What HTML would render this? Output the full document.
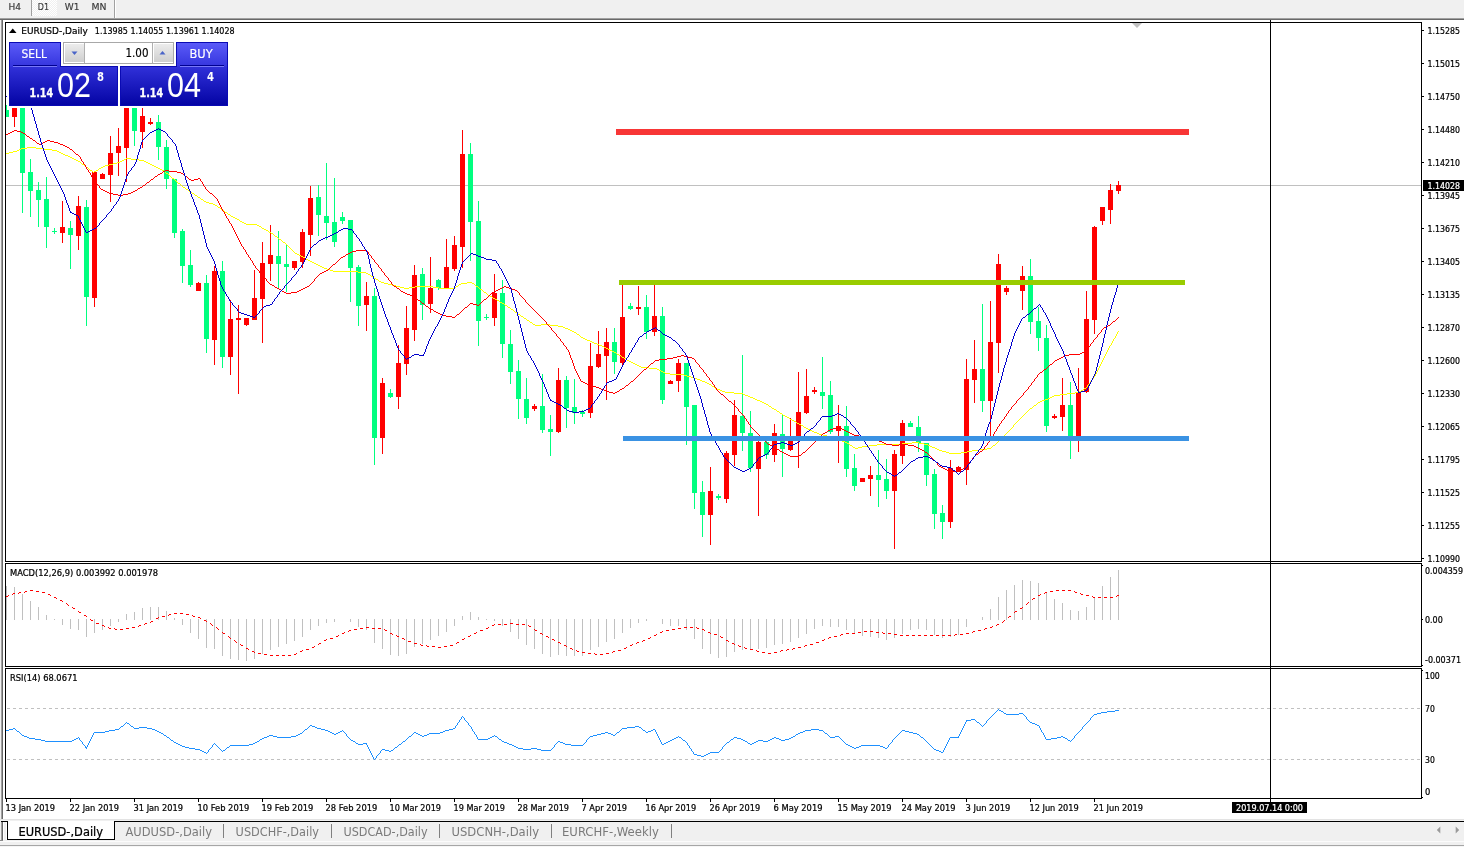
<!DOCTYPE html>
<html><head><meta charset="utf-8"><title>EURUSD-,Daily</title>
<style>html,body{margin:0;padding:0;background:#f0f0f0;overflow:hidden}svg{display:block}</style></head>
<body>
<svg width="1464" height="847" viewBox="0 0 1464 847" font-family='"DejaVu Sans Condensed", "Liberation Sans", sans-serif' shape-rendering="crispEdges">
<defs><linearGradient id="gs" x1="0" y1="0" x2="0" y2="1"><stop offset="0" stop-color="#5a5af8"/><stop offset="1" stop-color="#3636de"/></linearGradient><linearGradient id="gp" x1="0" y1="0" x2="0" y2="1"><stop offset="0" stop-color="#3030d8"/><stop offset="1" stop-color="#0404a4"/></linearGradient><linearGradient id="gb" x1="0" y1="0" x2="0" y2="1"><stop offset="0" stop-color="#ececec"/><stop offset="1" stop-color="#cfcfcf"/></linearGradient><pattern id="chk" width="2" height="2" patternUnits="userSpaceOnUse"><rect width="2" height="2" fill="#f0f0f0"/><rect width="1" height="1" fill="#fff"/><rect x="1" y="1" width="1" height="1" fill="#fff"/></pattern><clipPath id="cm"><rect x="6" y="23" width="1415" height="538"/></clipPath></defs>
<rect x="0" y="0" width="1464" height="847" fill="#f0f0f0"/>
<rect x="32" y="0" width="25" height="16" fill="url(#chk)"/>
<rect x="31" y="0" width="1" height="16" fill="#a0a0a0"/>
<rect x="114" y="0" width="1" height="18" fill="#a0a0a0"/>
<rect x="115" y="0" width="1" height="18" fill="#ffffff"/>
<text x="8.5" y="10.2" font-size="9.3" fill="#3a3a3a" textLength="12.5" lengthAdjust="spacingAndGlyphs" stroke="#3a3a3a" stroke-width="0.15">H4</text>
<text x="37.8" y="10.2" font-size="9.3" fill="#3a3a3a" textLength="11.2" lengthAdjust="spacingAndGlyphs" stroke="#3a3a3a" stroke-width="0.15">D1</text>
<text x="64.8" y="10.2" font-size="9.3" fill="#3a3a3a" textLength="14.7" lengthAdjust="spacingAndGlyphs" stroke="#3a3a3a" stroke-width="0.15">W1</text>
<text x="91.5" y="10.2" font-size="9.3" fill="#3a3a3a" textLength="15" lengthAdjust="spacingAndGlyphs" stroke="#3a3a3a" stroke-width="0.15">MN</text>
<rect x="0" y="18" width="1464" height="1" fill="#a0a0a0"/>
<rect x="0" y="19" width="1464" height="1" fill="#696969"/>
<rect x="1" y="20" width="1" height="800" fill="#a0a0a0"/>
<rect x="2" y="20" width="1" height="800" fill="#696969"/>
<rect x="3" y="20" width="1461" height="800" fill="#ffffff"/>
<rect x="0" y="819" width="1464" height="1" fill="#e3e3e3"/>
<rect x="0" y="820" width="1464" height="27" fill="#f0f0f0"/>
<rect x="0" y="841" width="1464" height="1" fill="#fbfbfb"/>
<rect x="0" y="845" width="1464" height="1" fill="#a6a6a6"/>
<rect x="0" y="846" width="1464" height="1" fill="#f6f6f6"/>
<rect x="1" y="821" width="1463" height="1" fill="#000"/>
<rect x="7" y="821" width="108" height="19" fill="#fff"/>
<rect x="7" y="821" width="1" height="19" fill="#000"/>
<rect x="114" y="821" width="1" height="19" fill="#000"/>
<rect x="7" y="839" width="108" height="1" fill="#000"/>
<rect x="8" y="821" width="106" height="1" fill="#fff"/>
<rect x="1" y="822" width="1" height="18" fill="#a0a0a0"/>
<rect x="2" y="822" width="1" height="18" fill="#696969"/>
<rect x="0" y="840" width="3" height="1" fill="#8a8a8a"/>
<rect x="3" y="822" width="1" height="18" fill="#fff"/>
<rect x="6" y="822" width="1" height="18" fill="#fff"/>
<text x="18.5" y="836" font-size="12" fill="#000" textLength="84.5" lengthAdjust="spacingAndGlyphs" stroke="#000" stroke-width="0.22">EURUSD-,Daily</text>
<text x="125.5" y="836" font-size="12" fill="#7a7a7a" textLength="86.5" lengthAdjust="spacingAndGlyphs">AUDUSD-,Daily</text>
<text x="235.6" y="836" font-size="12" fill="#7a7a7a" textLength="83.4" lengthAdjust="spacingAndGlyphs">USDCHF-,Daily</text>
<text x="343.5" y="836" font-size="12" fill="#7a7a7a" textLength="84.1" lengthAdjust="spacingAndGlyphs">USDCAD-,Daily</text>
<text x="451.5" y="836" font-size="12" fill="#7a7a7a" textLength="87.5" lengthAdjust="spacingAndGlyphs">USDCNH-,Daily</text>
<text x="562" y="836" font-size="12" fill="#7a7a7a" textLength="96.8" lengthAdjust="spacingAndGlyphs">EURCHF-,Weekly</text>
<rect x="223" y="824" width="1" height="14" fill="#808080"/>
<rect x="331" y="824" width="1" height="14" fill="#808080"/>
<rect x="439" y="824" width="1" height="14" fill="#808080"/>
<rect x="551" y="824" width="1" height="14" fill="#808080"/>
<rect x="671" y="824" width="1" height="14" fill="#808080"/>
<path d="M1440.3 826.5 L1440.3 833.5 L1436.8 830 Z" fill="#9a9a9a" shape-rendering="auto"/>
<path d="M1455.7 826.5 L1455.7 833.5 L1459.2 830 Z" fill="#9a9a9a" shape-rendering="auto"/>
<rect x="5" y="22" width="1" height="540" fill="#000"/>
<rect x="5" y="22" width="1417" height="1" fill="#000"/>
<rect x="5" y="561" width="1417" height="1" fill="#000"/>
<rect x="1421" y="22" width="1" height="540" fill="#000"/>
<rect x="5" y="563" width="1" height="104" fill="#000"/>
<rect x="5" y="563" width="1417" height="1" fill="#000"/>
<rect x="5" y="666" width="1417" height="1" fill="#000"/>
<rect x="1421" y="563" width="1" height="104" fill="#000"/>
<rect x="5" y="668" width="1" height="131" fill="#000"/>
<rect x="5" y="668" width="1417" height="1" fill="#000"/>
<rect x="5" y="798" width="1417" height="1" fill="#000"/>
<rect x="1421" y="668" width="1" height="131" fill="#000"/>
<rect x="6" y="185" width="1415" height="1" fill="#c0c0c0"/>
<path d="M1132 23 L1142 23 L1137 28 Z" fill="#c0c0c0" shape-rendering="auto"/>
<g clip-path="url(#cm)">
<rect x="6" y="105" width="1" height="12" fill="#00ff7f"/>
<rect x="4" y="110" width="5" height="7" fill="#00ff7f"/>
<rect x="14" y="108" width="1" height="19" fill="#ff0000"/>
<rect x="12" y="108" width="5" height="9" fill="#ff0000"/>
<rect x="22" y="108" width="1" height="105" fill="#00ff7f"/>
<rect x="20" y="108" width="5" height="65" fill="#00ff7f"/>
<rect x="30" y="159" width="1" height="58" fill="#00ff7f"/>
<rect x="28" y="172" width="5" height="19" fill="#00ff7f"/>
<rect x="38" y="182" width="1" height="45" fill="#00ff7f"/>
<rect x="36" y="190" width="5" height="10" fill="#00ff7f"/>
<rect x="46" y="177" width="1" height="71" fill="#00ff7f"/>
<rect x="44" y="199" width="5" height="28" fill="#00ff7f"/>
<rect x="54" y="228" width="1" height="6" fill="#00ff7f"/>
<rect x="52" y="231" width="5" height="1" fill="#00ff7f"/>
<rect x="62" y="201" width="1" height="42" fill="#ff0000"/>
<rect x="60" y="227" width="5" height="6" fill="#ff0000"/>
<rect x="70" y="221" width="1" height="48" fill="#00ff7f"/>
<rect x="68" y="228" width="5" height="7" fill="#00ff7f"/>
<rect x="78" y="196" width="1" height="54" fill="#ff0000"/>
<rect x="76" y="206" width="5" height="30" fill="#ff0000"/>
<rect x="86" y="200" width="1" height="126" fill="#00ff7f"/>
<rect x="84" y="207" width="5" height="90" fill="#00ff7f"/>
<rect x="94" y="172" width="1" height="135" fill="#ff0000"/>
<rect x="92" y="172" width="5" height="126" fill="#ff0000"/>
<rect x="102" y="173" width="1" height="6" fill="#ff0000"/>
<rect x="100" y="174" width="5" height="5" fill="#ff0000"/>
<rect x="110" y="136" width="1" height="66" fill="#ff0000"/>
<rect x="108" y="153" width="5" height="22" fill="#ff0000"/>
<rect x="118" y="128" width="1" height="48" fill="#ff0000"/>
<rect x="116" y="146" width="5" height="7" fill="#ff0000"/>
<rect x="126" y="95" width="1" height="87" fill="#ff0000"/>
<rect x="124" y="95" width="5" height="53" fill="#ff0000"/>
<rect x="134" y="95" width="1" height="51" fill="#00ff7f"/>
<rect x="132" y="100" width="5" height="31" fill="#00ff7f"/>
<rect x="142" y="100" width="1" height="48" fill="#ff0000"/>
<rect x="140" y="116" width="5" height="16" fill="#ff0000"/>
<rect x="150" y="118" width="1" height="7" fill="#ff0000"/>
<rect x="148" y="122" width="5" height="2" fill="#ff0000"/>
<rect x="158" y="115" width="1" height="45" fill="#00ff7f"/>
<rect x="156" y="122" width="5" height="25" fill="#00ff7f"/>
<rect x="166" y="140" width="1" height="49" fill="#00ff7f"/>
<rect x="164" y="147" width="5" height="32" fill="#00ff7f"/>
<rect x="174" y="179" width="1" height="59" fill="#00ff7f"/>
<rect x="172" y="179" width="5" height="54" fill="#00ff7f"/>
<rect x="182" y="229" width="1" height="54" fill="#00ff7f"/>
<rect x="180" y="231" width="5" height="35" fill="#00ff7f"/>
<rect x="190" y="250" width="1" height="37" fill="#00ff7f"/>
<rect x="188" y="265" width="5" height="20" fill="#00ff7f"/>
<rect x="198" y="282" width="1" height="9" fill="#ff0000"/>
<rect x="196" y="283" width="5" height="8" fill="#ff0000"/>
<rect x="206" y="275" width="1" height="78" fill="#00ff7f"/>
<rect x="204" y="283" width="5" height="56" fill="#00ff7f"/>
<rect x="214" y="266" width="1" height="99" fill="#ff0000"/>
<rect x="212" y="271" width="5" height="69" fill="#ff0000"/>
<rect x="222" y="261" width="1" height="107" fill="#00ff7f"/>
<rect x="220" y="271" width="5" height="86" fill="#00ff7f"/>
<rect x="230" y="300" width="1" height="75" fill="#ff0000"/>
<rect x="228" y="319" width="5" height="38" fill="#ff0000"/>
<rect x="238" y="305" width="1" height="89" fill="#ff0000"/>
<rect x="236" y="318" width="5" height="2" fill="#ff0000"/>
<rect x="246" y="318" width="1" height="8" fill="#ff0000"/>
<rect x="244" y="318" width="5" height="7" fill="#ff0000"/>
<rect x="254" y="270" width="1" height="50" fill="#ff0000"/>
<rect x="252" y="298" width="5" height="22" fill="#ff0000"/>
<rect x="262" y="242" width="1" height="101" fill="#ff0000"/>
<rect x="260" y="263" width="5" height="36" fill="#ff0000"/>
<rect x="270" y="225" width="1" height="56" fill="#ff0000"/>
<rect x="268" y="255" width="5" height="9" fill="#ff0000"/>
<rect x="278" y="231" width="1" height="57" fill="#00ff7f"/>
<rect x="276" y="256" width="5" height="8" fill="#00ff7f"/>
<rect x="286" y="244" width="1" height="48" fill="#00ff7f"/>
<rect x="284" y="264" width="5" height="3" fill="#00ff7f"/>
<rect x="294" y="261" width="1" height="9" fill="#ff0000"/>
<rect x="292" y="261" width="5" height="7" fill="#ff0000"/>
<rect x="302" y="229" width="1" height="39" fill="#ff0000"/>
<rect x="300" y="232" width="5" height="30" fill="#ff0000"/>
<rect x="310" y="186" width="1" height="70" fill="#ff0000"/>
<rect x="308" y="198" width="5" height="37" fill="#ff0000"/>
<rect x="318" y="185" width="1" height="51" fill="#00ff7f"/>
<rect x="316" y="197" width="5" height="18" fill="#00ff7f"/>
<rect x="326" y="163" width="1" height="77" fill="#00ff7f"/>
<rect x="324" y="216" width="5" height="7" fill="#00ff7f"/>
<rect x="334" y="178" width="1" height="69" fill="#00ff7f"/>
<rect x="332" y="222" width="5" height="20" fill="#00ff7f"/>
<rect x="342" y="212" width="1" height="12" fill="#00ff7f"/>
<rect x="340" y="217" width="5" height="4" fill="#00ff7f"/>
<rect x="350" y="220" width="1" height="82" fill="#00ff7f"/>
<rect x="348" y="220" width="5" height="48" fill="#00ff7f"/>
<rect x="358" y="265" width="1" height="61" fill="#00ff7f"/>
<rect x="356" y="267" width="5" height="39" fill="#00ff7f"/>
<rect x="366" y="282" width="1" height="49" fill="#ff0000"/>
<rect x="364" y="296" width="5" height="9" fill="#ff0000"/>
<rect x="374" y="288" width="1" height="177" fill="#00ff7f"/>
<rect x="372" y="296" width="5" height="142" fill="#00ff7f"/>
<rect x="382" y="378" width="1" height="76" fill="#ff0000"/>
<rect x="380" y="383" width="5" height="55" fill="#ff0000"/>
<rect x="390" y="389" width="1" height="9" fill="#00ff7f"/>
<rect x="388" y="393" width="5" height="4" fill="#00ff7f"/>
<rect x="398" y="345" width="1" height="64" fill="#ff0000"/>
<rect x="396" y="363" width="5" height="34" fill="#ff0000"/>
<rect x="406" y="306" width="1" height="69" fill="#ff0000"/>
<rect x="404" y="328" width="5" height="36" fill="#ff0000"/>
<rect x="414" y="265" width="1" height="76" fill="#ff0000"/>
<rect x="412" y="275" width="5" height="55" fill="#ff0000"/>
<rect x="422" y="268" width="1" height="52" fill="#00ff7f"/>
<rect x="420" y="274" width="5" height="31" fill="#00ff7f"/>
<rect x="430" y="257" width="1" height="56" fill="#ff0000"/>
<rect x="428" y="288" width="5" height="16" fill="#ff0000"/>
<rect x="438" y="279" width="1" height="11" fill="#00ff7f"/>
<rect x="436" y="280" width="5" height="8" fill="#00ff7f"/>
<rect x="446" y="239" width="1" height="49" fill="#ff0000"/>
<rect x="444" y="267" width="5" height="21" fill="#ff0000"/>
<rect x="454" y="236" width="1" height="35" fill="#ff0000"/>
<rect x="452" y="245" width="5" height="24" fill="#ff0000"/>
<rect x="462" y="130" width="1" height="138" fill="#ff0000"/>
<rect x="460" y="154" width="5" height="93" fill="#ff0000"/>
<rect x="470" y="143" width="1" height="118" fill="#00ff7f"/>
<rect x="468" y="154" width="5" height="68" fill="#00ff7f"/>
<rect x="478" y="201" width="1" height="145" fill="#00ff7f"/>
<rect x="476" y="221" width="5" height="100" fill="#00ff7f"/>
<rect x="486" y="314" width="1" height="6" fill="#00ff7f"/>
<rect x="484" y="317" width="5" height="1" fill="#00ff7f"/>
<rect x="494" y="274" width="1" height="52" fill="#ff0000"/>
<rect x="492" y="293" width="5" height="25" fill="#ff0000"/>
<rect x="502" y="280" width="1" height="78" fill="#00ff7f"/>
<rect x="500" y="293" width="5" height="51" fill="#00ff7f"/>
<rect x="510" y="330" width="1" height="54" fill="#00ff7f"/>
<rect x="508" y="344" width="5" height="28" fill="#00ff7f"/>
<rect x="518" y="360" width="1" height="59" fill="#00ff7f"/>
<rect x="516" y="371" width="5" height="28" fill="#00ff7f"/>
<rect x="526" y="378" width="1" height="46" fill="#00ff7f"/>
<rect x="524" y="399" width="5" height="19" fill="#00ff7f"/>
<rect x="534" y="404" width="1" height="7" fill="#ff0000"/>
<rect x="532" y="406" width="5" height="3" fill="#ff0000"/>
<rect x="542" y="374" width="1" height="59" fill="#00ff7f"/>
<rect x="540" y="406" width="5" height="24" fill="#00ff7f"/>
<rect x="550" y="415" width="1" height="41" fill="#00ff7f"/>
<rect x="548" y="429" width="5" height="3" fill="#00ff7f"/>
<rect x="558" y="368" width="1" height="65" fill="#ff0000"/>
<rect x="556" y="380" width="5" height="52" fill="#ff0000"/>
<rect x="566" y="376" width="1" height="52" fill="#00ff7f"/>
<rect x="564" y="380" width="5" height="28" fill="#00ff7f"/>
<rect x="574" y="379" width="1" height="45" fill="#00ff7f"/>
<rect x="572" y="407" width="5" height="6" fill="#00ff7f"/>
<rect x="582" y="410" width="1" height="7" fill="#00ff7f"/>
<rect x="580" y="412" width="5" height="2" fill="#00ff7f"/>
<rect x="590" y="343" width="1" height="75" fill="#ff0000"/>
<rect x="588" y="366" width="5" height="47" fill="#ff0000"/>
<rect x="598" y="331" width="1" height="37" fill="#ff0000"/>
<rect x="596" y="354" width="5" height="13" fill="#ff0000"/>
<rect x="606" y="328" width="1" height="72" fill="#ff0000"/>
<rect x="604" y="342" width="5" height="14" fill="#ff0000"/>
<rect x="614" y="328" width="1" height="46" fill="#00ff7f"/>
<rect x="612" y="342" width="5" height="20" fill="#00ff7f"/>
<rect x="622" y="285" width="1" height="81" fill="#ff0000"/>
<rect x="620" y="317" width="5" height="46" fill="#ff0000"/>
<rect x="630" y="303" width="1" height="7" fill="#00ff7f"/>
<rect x="628" y="306" width="5" height="3" fill="#00ff7f"/>
<rect x="638" y="286" width="1" height="29" fill="#ff0000"/>
<rect x="636" y="307" width="5" height="2" fill="#ff0000"/>
<rect x="646" y="295" width="1" height="44" fill="#00ff7f"/>
<rect x="644" y="307" width="5" height="25" fill="#00ff7f"/>
<rect x="654" y="285" width="1" height="51" fill="#ff0000"/>
<rect x="652" y="316" width="5" height="16" fill="#ff0000"/>
<rect x="662" y="307" width="1" height="97" fill="#00ff7f"/>
<rect x="660" y="316" width="5" height="84" fill="#00ff7f"/>
<rect x="670" y="380" width="1" height="4" fill="#ff0000"/>
<rect x="668" y="381" width="5" height="3" fill="#ff0000"/>
<rect x="678" y="359" width="1" height="33" fill="#ff0000"/>
<rect x="676" y="363" width="5" height="18" fill="#ff0000"/>
<rect x="686" y="363" width="1" height="82" fill="#00ff7f"/>
<rect x="684" y="363" width="5" height="44" fill="#00ff7f"/>
<rect x="694" y="405" width="1" height="104" fill="#00ff7f"/>
<rect x="692" y="405" width="5" height="88" fill="#00ff7f"/>
<rect x="702" y="481" width="1" height="56" fill="#00ff7f"/>
<rect x="700" y="492" width="5" height="23" fill="#00ff7f"/>
<rect x="710" y="467" width="1" height="78" fill="#ff0000"/>
<rect x="708" y="491" width="5" height="24" fill="#ff0000"/>
<rect x="718" y="494" width="1" height="6" fill="#00ff7f"/>
<rect x="716" y="496" width="5" height="2" fill="#00ff7f"/>
<rect x="726" y="451" width="1" height="52" fill="#ff0000"/>
<rect x="724" y="453" width="5" height="46" fill="#ff0000"/>
<rect x="734" y="400" width="1" height="66" fill="#ff0000"/>
<rect x="732" y="415" width="5" height="40" fill="#ff0000"/>
<rect x="742" y="355" width="1" height="96" fill="#00ff7f"/>
<rect x="740" y="416" width="5" height="17" fill="#00ff7f"/>
<rect x="750" y="411" width="1" height="61" fill="#00ff7f"/>
<rect x="748" y="433" width="5" height="35" fill="#00ff7f"/>
<rect x="758" y="436" width="1" height="80" fill="#ff0000"/>
<rect x="756" y="442" width="5" height="27" fill="#ff0000"/>
<rect x="766" y="438" width="1" height="21" fill="#00ff7f"/>
<rect x="764" y="442" width="5" height="13" fill="#00ff7f"/>
<rect x="774" y="424" width="1" height="38" fill="#ff0000"/>
<rect x="772" y="433" width="5" height="22" fill="#ff0000"/>
<rect x="782" y="414" width="1" height="63" fill="#00ff7f"/>
<rect x="780" y="434" width="5" height="15" fill="#00ff7f"/>
<rect x="790" y="418" width="1" height="33" fill="#ff0000"/>
<rect x="788" y="441" width="5" height="9" fill="#ff0000"/>
<rect x="798" y="372" width="1" height="96" fill="#ff0000"/>
<rect x="796" y="412" width="5" height="29" fill="#ff0000"/>
<rect x="806" y="369" width="1" height="45" fill="#ff0000"/>
<rect x="804" y="396" width="5" height="17" fill="#ff0000"/>
<rect x="814" y="387" width="1" height="7" fill="#ff0000"/>
<rect x="812" y="390" width="5" height="2" fill="#ff0000"/>
<rect x="822" y="357" width="1" height="52" fill="#00ff7f"/>
<rect x="820" y="392" width="5" height="4" fill="#00ff7f"/>
<rect x="830" y="381" width="1" height="53" fill="#00ff7f"/>
<rect x="828" y="395" width="5" height="37" fill="#00ff7f"/>
<rect x="838" y="405" width="1" height="58" fill="#ff0000"/>
<rect x="836" y="426" width="5" height="5" fill="#ff0000"/>
<rect x="846" y="406" width="1" height="71" fill="#00ff7f"/>
<rect x="844" y="426" width="5" height="43" fill="#00ff7f"/>
<rect x="854" y="454" width="1" height="37" fill="#00ff7f"/>
<rect x="852" y="468" width="5" height="18" fill="#00ff7f"/>
<rect x="862" y="478" width="1" height="4" fill="#ff0000"/>
<rect x="860" y="478" width="5" height="4" fill="#ff0000"/>
<rect x="870" y="466" width="1" height="30" fill="#ff0000"/>
<rect x="868" y="475" width="5" height="4" fill="#ff0000"/>
<rect x="878" y="450" width="1" height="57" fill="#00ff7f"/>
<rect x="876" y="475" width="5" height="5" fill="#00ff7f"/>
<rect x="886" y="459" width="1" height="40" fill="#00ff7f"/>
<rect x="884" y="479" width="5" height="12" fill="#00ff7f"/>
<rect x="894" y="450" width="1" height="99" fill="#ff0000"/>
<rect x="892" y="454" width="5" height="37" fill="#ff0000"/>
<rect x="902" y="420" width="1" height="44" fill="#ff0000"/>
<rect x="900" y="423" width="5" height="33" fill="#ff0000"/>
<rect x="910" y="421" width="1" height="6" fill="#00ff7f"/>
<rect x="908" y="423" width="5" height="4" fill="#00ff7f"/>
<rect x="918" y="416" width="1" height="36" fill="#00ff7f"/>
<rect x="916" y="427" width="5" height="16" fill="#00ff7f"/>
<rect x="926" y="443" width="1" height="43" fill="#00ff7f"/>
<rect x="924" y="443" width="5" height="32" fill="#00ff7f"/>
<rect x="934" y="469" width="1" height="60" fill="#00ff7f"/>
<rect x="932" y="474" width="5" height="40" fill="#00ff7f"/>
<rect x="942" y="505" width="1" height="34" fill="#00ff7f"/>
<rect x="940" y="513" width="5" height="9" fill="#00ff7f"/>
<rect x="950" y="460" width="1" height="68" fill="#ff0000"/>
<rect x="948" y="468" width="5" height="54" fill="#ff0000"/>
<rect x="958" y="466" width="1" height="6" fill="#ff0000"/>
<rect x="956" y="467" width="5" height="5" fill="#ff0000"/>
<rect x="966" y="359" width="1" height="126" fill="#ff0000"/>
<rect x="964" y="379" width="5" height="91" fill="#ff0000"/>
<rect x="974" y="340" width="1" height="63" fill="#ff0000"/>
<rect x="972" y="369" width="5" height="11" fill="#ff0000"/>
<rect x="982" y="304" width="1" height="108" fill="#00ff7f"/>
<rect x="980" y="369" width="5" height="32" fill="#00ff7f"/>
<rect x="990" y="301" width="1" height="136" fill="#ff0000"/>
<rect x="988" y="342" width="5" height="59" fill="#ff0000"/>
<rect x="998" y="254" width="1" height="119" fill="#ff0000"/>
<rect x="996" y="264" width="5" height="79" fill="#ff0000"/>
<rect x="1006" y="286" width="1" height="9" fill="#ff0000"/>
<rect x="1004" y="288" width="5" height="4" fill="#ff0000"/>
<rect x="1014" y="280" width="1" height="4" fill="#ff0000"/>
<rect x="1012" y="281" width="5" height="2" fill="#ff0000"/>
<rect x="1022" y="266" width="1" height="44" fill="#ff0000"/>
<rect x="1020" y="276" width="5" height="15" fill="#ff0000"/>
<rect x="1030" y="259" width="1" height="75" fill="#00ff7f"/>
<rect x="1028" y="276" width="5" height="46" fill="#00ff7f"/>
<rect x="1038" y="307" width="1" height="44" fill="#00ff7f"/>
<rect x="1036" y="321" width="5" height="17" fill="#00ff7f"/>
<rect x="1046" y="325" width="1" height="107" fill="#00ff7f"/>
<rect x="1044" y="338" width="5" height="88" fill="#00ff7f"/>
<rect x="1054" y="414" width="1" height="5" fill="#ff0000"/>
<rect x="1052" y="416" width="5" height="2" fill="#ff0000"/>
<rect x="1062" y="378" width="1" height="53" fill="#ff0000"/>
<rect x="1060" y="405" width="5" height="12" fill="#ff0000"/>
<rect x="1070" y="382" width="1" height="77" fill="#00ff7f"/>
<rect x="1068" y="405" width="5" height="31" fill="#00ff7f"/>
<rect x="1078" y="368" width="1" height="84" fill="#ff0000"/>
<rect x="1076" y="392" width="5" height="44" fill="#ff0000"/>
<rect x="1086" y="291" width="1" height="102" fill="#ff0000"/>
<rect x="1084" y="319" width="5" height="73" fill="#ff0000"/>
<rect x="1094" y="226" width="1" height="108" fill="#ff0000"/>
<rect x="1092" y="227" width="5" height="93" fill="#ff0000"/>
<rect x="1102" y="207" width="1" height="18" fill="#ff0000"/>
<rect x="1100" y="207" width="5" height="14" fill="#ff0000"/>
<rect x="1110" y="184" width="1" height="40" fill="#ff0000"/>
<rect x="1108" y="190" width="5" height="20" fill="#ff0000"/>
<rect x="1118" y="181" width="1" height="13" fill="#ff0000"/>
<rect x="1116" y="185" width="5" height="6" fill="#ff0000"/>
<path fill="#ffff00" d="M27 147h9v1h-9zM21 148h6v1h-6zM36 148h8v1h-8zM19 149h2v1h-2zM44 149h8v1h-8zM17 150h2v1h-2zM52 150h5v1h-5zM13 151h4v1h-4zM57 151h2v1h-2zM9 152h4v1h-4zM59 152h2v1h-2zM6 153h3v1h-3zM61 153h2v1h-2zM63 154h2v1h-2zM65 155h3v1h-3zM68 156h2v1h-2zM70 157h2v1h-2zM72 158h2v1h-2zM126 158h5v1h-5zM74 159h2v1h-2zM124 159h2v1h-2zM131 159h8v1h-8zM76 160h2v1h-2zM122 160h2v1h-2zM139 160h5v1h-5zM78 161h2v1h-2zM120 161h2v1h-2zM144 161h2v1h-2zM80 162h1v1h-1zM117 162h3v1h-3zM146 162h2v1h-2zM81 163h1v1h-1zM113 163h4v1h-4zM148 163h2v1h-2zM82 164h2v1h-2zM109 164h4v1h-4zM150 164h2v1h-2zM84 165h1v1h-1zM105 165h4v1h-4zM152 165h2v1h-2zM85 166h1v1h-1zM103 166h2v1h-2zM154 166h2v1h-2zM86 167h2v1h-2zM101 167h2v1h-2zM156 167h2v1h-2zM88 168h1v1h-1zM99 168h2v1h-2zM158 168h2v1h-2zM89 169h1v1h-1zM98 169h1v1h-1zM160 169h2v1h-2zM90 170h2v1h-2zM96 170h2v1h-2zM162 170h2v1h-2zM92 171h1v1h-1zM94 171h2v1h-2zM164 171h1v1h-1zM93 172h1v1h-1zM165 172h1v1h-1zM166 173h2v1h-2zM168 174h1v1h-1zM169 175h1v1h-1zM170 176h1v1h-1zM171 177h1v1h-1zM172 178h2v1h-2zM174 179h1v1h-1zM175 180h1v1h-1zM176 181h1v1h-1zM177 182h1v1h-1zM178 183h2v1h-2zM180 184h1v1h-1zM181 185h1v1h-1zM182 186h1v1h-1zM183 187h2v1h-2zM185 188h1v1h-1zM186 189h2v1h-2zM188 190h1v1h-1zM189 191h2v1h-2zM191 192h1v1h-1zM192 193h2v1h-2zM194 194h1v1h-1zM195 195h2v1h-2zM197 196h1v1h-1zM198 197h2v1h-2zM200 198h1v1h-1zM201 199h2v1h-2zM203 200h1v1h-1zM204 201h2v1h-2zM206 202h3v1h-3zM209 203h4v1h-4zM213 204h2v1h-2zM215 205h2v1h-2zM217 206h1v1h-1zM218 207h2v1h-2zM220 208h1v1h-1zM221 209h2v1h-2zM223 210h1v1h-1zM224 211h1v1h-1zM225 212h2v1h-2zM227 213h1v1h-1zM228 214h2v1h-2zM230 215h1v1h-1zM231 216h2v1h-2zM233 217h2v1h-2zM235 218h2v1h-2zM237 219h2v1h-2zM239 220h1v1h-1zM240 221h2v1h-2zM242 222h2v1h-2zM244 223h2v1h-2zM246 224h11v1h-11zM257 225h2v1h-2zM259 226h2v1h-2zM261 227h1v1h-1zM262 228h2v1h-2zM264 229h2v1h-2zM266 230h2v1h-2zM268 231h1v1h-1zM269 232h2v1h-2zM271 233h2v1h-2zM273 234h1v1h-1zM274 235h1v1h-1zM275 236h2v1h-2zM277 237h1v1h-1zM278 238h1v1h-1zM279 239h2v1h-2zM281 240h1v1h-1zM282 241h1v1h-1zM283 242h2v1h-2zM285 243h1v1h-1zM286 244h1v1h-1zM287 245h1v1h-1zM288 246h1v1h-1zM289 247h1v1h-1zM290 248h1v1h-1zM291 249h1v1h-1zM292 250h1v1h-1zM293 251h1v1h-1zM294 252h1v1h-1zM295 253h2v1h-2zM297 254h2v1h-2zM299 255h2v1h-2zM301 256h2v1h-2zM303 257h2v1h-2zM305 258h1v1h-1zM306 259h2v1h-2zM308 260h2v1h-2zM310 261h2v1h-2zM312 262h2v1h-2zM314 263h2v1h-2zM316 264h2v1h-2zM318 265h2v1h-2zM320 266h2v1h-2zM322 267h2v1h-2zM324 268h3v1h-3zM327 269h3v1h-3zM330 270h3v1h-3zM333 271h25v1h-25zM358 272h8v1h-8zM366 273h2v1h-2zM368 274h2v1h-2zM370 275h1v1h-1zM371 276h2v1h-2zM373 277h1v1h-1zM374 278h2v1h-2zM376 279h2v1h-2zM378 280h1v1h-1zM379 281h2v1h-2zM381 282h3v1h-3zM467 282h5v1h-5zM384 283h4v1h-4zM461 283h6v1h-6zM472 283h2v1h-2zM388 284h4v1h-4zM459 284h2v1h-2zM474 284h1v1h-1zM392 285h4v1h-4zM458 285h1v1h-1zM475 285h1v1h-1zM396 286h4v1h-4zM415 286h18v1h-18zM456 286h2v1h-2zM476 286h2v1h-2zM400 287h4v1h-4zM409 287h6v1h-6zM433 287h6v1h-6zM454 287h2v1h-2zM478 287h1v1h-1zM404 288h5v1h-5zM439 288h15v1h-15zM479 288h1v1h-1zM480 289h2v1h-2zM482 290h1v1h-1zM483 291h1v1h-1zM484 292h2v1h-2zM486 293h1v1h-1zM487 294h1v1h-1zM488 295h2v1h-2zM490 296h2v1h-2zM492 297h1v1h-1zM493 298h2v1h-2zM495 299h2v1h-2zM497 300h2v1h-2zM499 301h1v1h-1zM500 302h2v1h-2zM502 303h2v1h-2zM504 304h1v1h-1zM505 305h2v1h-2zM507 306h1v1h-1zM508 307h2v1h-2zM510 308h1v1h-1zM511 309h2v1h-2zM513 310h1v1h-1zM514 311h1v1h-1zM515 312h2v1h-2zM517 313h1v1h-1zM518 314h2v1h-2zM520 315h1v1h-1zM521 316h2v1h-2zM523 317h1v1h-1zM524 318h2v1h-2zM526 319h1v1h-1zM527 320h2v1h-2zM529 321h1v1h-1zM530 322h2v1h-2zM532 323h1v1h-1zM533 324h2v1h-2zM541 324h9v1h-9zM535 325h6v1h-6zM550 325h8v1h-8zM558 326h5v1h-5zM563 327h2v1h-2zM565 328h3v1h-3zM568 329h2v1h-2zM570 330h2v1h-2zM572 331h2v1h-2zM1118 331h1v1h-1zM574 332h2v1h-2zM1117 332h1v2h-1zM576 333h1v1h-1zM577 334h2v1h-2zM1116 334h1v2h-1zM579 335h1v1h-1zM580 336h1v1h-1zM1115 336h1v2h-1zM581 337h2v1h-2zM583 338h2v1h-2zM1114 338h1v1h-1zM585 339h2v1h-2zM1113 339h1v2h-1zM587 340h3v1h-3zM590 341h2v1h-2zM1112 341h1v2h-1zM592 342h2v1h-2zM594 343h3v1h-3zM1111 343h1v2h-1zM597 344h2v1h-2zM599 345h3v1h-3zM1110 345h1v1h-1zM602 346h2v1h-2zM1109 346h1v2h-1zM604 347h2v1h-2zM606 348h2v1h-2zM1108 348h1v2h-1zM608 349h2v1h-2zM610 350h2v1h-2zM1107 350h1v2h-1zM612 351h2v1h-2zM614 352h2v1h-2zM1106 352h1v2h-1zM616 353h1v1h-1zM617 354h2v1h-2zM1105 354h1v2h-1zM619 355h2v1h-2zM621 356h1v1h-1zM1104 356h1v2h-1zM622 357h2v1h-2zM624 358h2v1h-2zM1103 358h1v2h-1zM626 359h1v1h-1zM627 360h2v1h-2zM1102 360h1v2h-1zM629 361h2v1h-2zM631 362h2v1h-2zM1101 362h1v2h-1zM633 363h2v1h-2zM635 364h2v1h-2zM1100 364h1v2h-1zM637 365h2v1h-2zM639 366h2v1h-2zM1099 366h1v2h-1zM641 367h8v1h-8zM649 368h8v1h-8zM1098 368h1v2h-1zM657 369h2v1h-2zM659 370h2v1h-2zM1097 370h1v2h-1zM661 371h2v1h-2zM663 372h2v1h-2zM1096 372h1v2h-1zM665 373h5v1h-5zM670 374h14v1h-14zM1095 374h1v2h-1zM684 375h3v1h-3zM687 376h4v1h-4zM1094 376h1v1h-1zM691 377h3v1h-3zM1093 377h1v2h-1zM694 378h3v1h-3zM697 379h3v1h-3zM1092 379h1v1h-1zM700 380h2v1h-2zM1091 380h1v1h-1zM702 381h3v1h-3zM1090 381h1v2h-1zM705 382h2v1h-2zM707 383h2v1h-2zM1089 383h1v1h-1zM709 384h2v1h-2zM1088 384h1v1h-1zM711 385h1v1h-1zM1087 385h1v2h-1zM712 386h2v1h-2zM714 387h1v1h-1zM1086 387h1v1h-1zM715 388h2v1h-2zM1084 388h2v1h-2zM717 389h3v1h-3zM1083 389h1v1h-1zM720 390h2v1h-2zM1081 390h2v1h-2zM722 391h3v1h-3zM1079 391h2v1h-2zM725 392h9v1h-9zM1075 392h4v1h-4zM734 393h9v1h-9zM1067 393h8v1h-8zM743 394h2v1h-2zM1060 394h7v1h-7zM745 395h3v1h-3zM1054 395h6v1h-6zM748 396h2v1h-2zM1052 396h2v1h-2zM750 397h3v1h-3zM1050 397h2v1h-2zM753 398h2v1h-2zM1048 398h2v1h-2zM755 399h2v1h-2zM1045 399h3v1h-3zM757 400h3v1h-3zM1042 400h3v1h-3zM760 401h2v1h-2zM1040 401h2v1h-2zM762 402h2v1h-2zM1038 402h2v1h-2zM764 403h2v1h-2zM1037 403h1v1h-1zM766 404h2v1h-2zM1036 404h1v1h-1zM768 405h1v1h-1zM1034 405h2v1h-2zM769 406h2v1h-2zM1033 406h1v1h-1zM771 407h1v1h-1zM1032 407h1v1h-1zM772 408h2v1h-2zM1030 408h2v1h-2zM774 409h2v1h-2zM1029 409h1v1h-1zM776 410h1v1h-1zM1028 410h1v1h-1zM777 411h2v1h-2zM1027 411h1v1h-1zM779 412h1v1h-1zM1026 412h1v1h-1zM780 413h2v1h-2zM1025 413h1v1h-1zM782 414h1v1h-1zM1024 414h1v1h-1zM783 415h2v1h-2zM1023 415h1v1h-1zM785 416h2v1h-2zM1022 416h1v1h-1zM787 417h2v1h-2zM1021 417h1v1h-1zM789 418h1v1h-1zM1020 418h1v1h-1zM790 419h2v1h-2zM1019 419h1v1h-1zM792 420h2v1h-2zM1018 420h1v1h-1zM794 421h2v1h-2zM1017 421h1v1h-1zM796 422h1v1h-1zM1016 422h1v1h-1zM797 423h2v1h-2zM1015 423h1v1h-1zM799 424h2v1h-2zM1014 424h1v1h-1zM801 425h2v1h-2zM1013 425h1v2h-1zM803 426h1v1h-1zM804 427h2v1h-2zM1012 427h1v1h-1zM806 428h2v1h-2zM1011 428h1v1h-1zM808 429h2v1h-2zM1010 429h1v1h-1zM810 430h2v1h-2zM1009 430h1v1h-1zM812 431h2v1h-2zM1008 431h1v1h-1zM814 432h3v1h-3zM1007 432h1v1h-1zM817 433h2v1h-2zM1006 433h1v1h-1zM819 434h4v1h-4zM1005 434h1v1h-1zM823 435h4v1h-4zM1004 435h1v1h-1zM827 436h3v1h-3zM1003 436h1v1h-1zM830 437h3v1h-3zM1002 437h1v1h-1zM833 438h3v1h-3zM1001 438h1v1h-1zM836 439h3v1h-3zM1000 439h1v1h-1zM839 440h3v1h-3zM999 440h1v1h-1zM842 441h3v1h-3zM998 441h1v1h-1zM845 442h2v1h-2zM912 442h7v1h-7zM997 442h1v1h-1zM847 443h2v1h-2zM902 443h10v1h-10zM919 443h5v1h-5zM996 443h1v1h-1zM849 444h1v1h-1zM877 444h25v1h-25zM924 444h4v1h-4zM995 444h1v1h-1zM850 445h2v1h-2zM869 445h8v1h-8zM928 445h2v1h-2zM993 445h2v1h-2zM852 446h1v1h-1zM862 446h7v1h-7zM930 446h2v1h-2zM992 446h1v1h-1zM853 447h2v1h-2zM858 447h4v1h-4zM932 447h3v1h-3zM991 447h1v1h-1zM855 448h3v1h-3zM935 448h2v1h-2zM987 448h4v1h-4zM937 449h2v1h-2zM979 449h8v1h-8zM939 450h3v1h-3zM972 450h7v1h-7zM942 451h4v1h-4zM967 451h5v1h-5zM946 452h3v1h-3zM961 452h6v1h-6zM949 453h12v1h-12z"/>
<path fill="#ff0000" d="M14 130h3v1h-3zM12 131h2v1h-2zM17 131h4v1h-4zM10 132h2v1h-2zM21 132h2v1h-2zM8 133h2v1h-2zM23 133h2v1h-2zM6 134h2v1h-2zM25 134h1v1h-1zM26 135h1v1h-1zM27 136h2v1h-2zM29 137h1v1h-1zM30 138h2v1h-2zM32 139h1v1h-1zM33 140h2v1h-2zM47 140h3v1h-3zM35 141h1v1h-1zM45 141h2v1h-2zM50 141h4v1h-4zM36 142h1v1h-1zM43 142h2v1h-2zM54 142h4v1h-4zM37 143h2v1h-2zM41 143h2v1h-2zM58 143h2v1h-2zM39 144h2v1h-2zM60 144h3v1h-3zM63 145h2v1h-2zM65 146h2v1h-2zM67 147h2v1h-2zM69 148h1v1h-1zM70 149h2v1h-2zM72 150h1v1h-1zM73 151h1v1h-1zM74 152h1v1h-1zM75 153h1v1h-1zM76 154h2v1h-2zM78 155h1v1h-1zM79 156h1v1h-1zM80 157h1v2h-1zM81 159h1v2h-1zM82 161h1v1h-1zM83 162h1v2h-1zM84 164h1v1h-1zM85 165h1v2h-1zM86 167h1v2h-1zM87 169h1v1h-1zM88 170h1v2h-1zM165 170h4v1h-4zM163 171h2v1h-2zM169 171h8v1h-8zM89 172h1v1h-1zM162 172h1v1h-1zM177 172h4v1h-4zM90 173h1v2h-1zM160 173h2v1h-2zM181 173h2v1h-2zM158 174h2v1h-2zM183 174h1v1h-1zM91 175h1v2h-1zM157 175h1v1h-1zM184 175h1v1h-1zM155 176h2v1h-2zM185 176h2v1h-2zM92 177h1v1h-1zM154 177h1v1h-1zM187 177h1v1h-1zM93 178h1v2h-1zM153 178h1v1h-1zM188 178h1v1h-1zM198 178h2v1h-2zM151 179h2v1h-2zM189 179h2v1h-2zM194 179h4v1h-4zM200 179h1v2h-1zM94 180h1v1h-1zM150 180h1v1h-1zM191 180h3v1h-3zM95 181h1v1h-1zM149 181h1v1h-1zM201 181h1v1h-1zM96 182h1v2h-1zM147 182h2v1h-2zM202 182h1v2h-1zM146 183h1v1h-1zM97 184h1v1h-1zM145 184h1v1h-1zM203 184h1v2h-1zM98 185h1v1h-1zM143 185h2v1h-2zM99 186h1v2h-1zM142 186h1v1h-1zM204 186h1v1h-1zM140 187h2v1h-2zM205 187h1v2h-1zM100 188h1v1h-1zM138 188h2v1h-2zM101 189h2v1h-2zM137 189h1v1h-1zM206 189h1v1h-1zM103 190h2v1h-2zM135 190h2v1h-2zM207 190h1v1h-1zM105 191h2v1h-2zM133 191h2v1h-2zM208 191h1v1h-1zM107 192h2v1h-2zM131 192h2v1h-2zM209 192h1v1h-1zM109 193h4v1h-4zM128 193h3v1h-3zM210 193h2v1h-2zM113 194h5v1h-5zM123 194h5v1h-5zM212 194h1v1h-1zM118 195h5v1h-5zM213 195h1v1h-1zM214 196h1v1h-1zM215 197h1v1h-1zM216 198h1v1h-1zM217 199h1v2h-1zM218 201h1v2h-1zM219 203h1v2h-1zM220 205h1v2h-1zM221 207h1v2h-1zM222 209h1v2h-1zM223 211h1v1h-1zM224 212h1v2h-1zM225 214h1v2h-1zM226 216h1v2h-1zM227 218h1v1h-1zM228 219h1v2h-1zM229 221h1v2h-1zM230 223h1v1h-1zM231 224h1v2h-1zM232 226h1v2h-1zM233 228h1v2h-1zM234 230h1v2h-1zM235 232h1v2h-1zM236 234h1v2h-1zM237 236h1v2h-1zM238 238h1v2h-1zM239 240h1v2h-1zM240 242h1v2h-1zM241 244h1v2h-1zM242 246h1v1h-1zM243 247h1v2h-1zM244 249h1v1h-1zM245 250h1v2h-1zM356 250h11v1h-11zM352 251h4v1h-4zM367 251h1v1h-1zM246 252h1v2h-1zM350 252h2v1h-2zM368 252h1v2h-1zM348 253h2v1h-2zM247 254h1v1h-1zM346 254h2v1h-2zM369 254h1v1h-1zM248 255h1v2h-1zM345 255h1v1h-1zM370 255h1v1h-1zM343 256h2v1h-2zM371 256h1v2h-1zM249 257h1v1h-1zM341 257h2v1h-2zM250 258h1v2h-1zM340 258h1v1h-1zM372 258h1v1h-1zM339 259h1v1h-1zM373 259h1v1h-1zM251 260h1v1h-1zM338 260h1v1h-1zM374 260h1v2h-1zM252 261h1v2h-1zM337 261h1v1h-1zM336 262h1v1h-1zM375 262h1v1h-1zM253 263h1v2h-1zM335 263h1v1h-1zM376 263h1v1h-1zM333 264h2v1h-2zM377 264h1v1h-1zM254 265h1v1h-1zM332 265h1v1h-1zM378 265h1v2h-1zM255 266h1v2h-1zM331 266h1v1h-1zM330 267h1v1h-1zM379 267h1v1h-1zM256 268h1v1h-1zM329 268h1v1h-1zM380 268h1v1h-1zM257 269h1v1h-1zM328 269h1v1h-1zM381 269h1v2h-1zM258 270h1v1h-1zM326 270h2v1h-2zM259 271h1v2h-1zM324 271h2v1h-2zM382 271h1v1h-1zM322 272h2v1h-2zM383 272h1v1h-1zM260 273h1v1h-1zM320 273h2v1h-2zM384 273h1v2h-1zM261 274h1v1h-1zM319 274h1v1h-1zM262 275h1v1h-1zM318 275h1v1h-1zM385 275h1v1h-1zM263 276h1v1h-1zM317 276h1v1h-1zM386 276h1v1h-1zM264 277h1v1h-1zM316 277h1v1h-1zM387 277h1v1h-1zM265 278h1v1h-1zM315 278h1v1h-1zM388 278h1v2h-1zM266 279h1v2h-1zM314 279h1v2h-1zM389 280h1v1h-1zM267 281h1v1h-1zM313 281h1v1h-1zM390 281h1v1h-1zM268 282h1v1h-1zM312 282h1v1h-1zM391 282h1v2h-1zM269 283h1v1h-1zM311 283h1v1h-1zM270 284h2v1h-2zM310 284h1v1h-1zM392 284h1v1h-1zM272 285h2v1h-2zM309 285h1v1h-1zM393 285h1v1h-1zM274 286h1v1h-1zM307 286h2v1h-2zM394 286h2v1h-2zM504 286h2v1h-2zM275 287h2v1h-2zM305 287h2v1h-2zM396 287h1v1h-1zM502 287h2v1h-2zM506 287h3v1h-3zM277 288h2v1h-2zM303 288h2v1h-2zM397 288h2v1h-2zM500 288h2v1h-2zM509 288h3v1h-3zM279 289h2v1h-2zM301 289h2v1h-2zM399 289h1v1h-1zM498 289h2v1h-2zM512 289h3v1h-3zM281 290h1v1h-1zM299 290h2v1h-2zM400 290h1v1h-1zM496 290h2v1h-2zM515 290h2v1h-2zM282 291h2v1h-2zM297 291h2v1h-2zM401 291h2v1h-2zM494 291h2v1h-2zM517 291h1v1h-1zM284 292h2v1h-2zM291 292h6v1h-6zM403 292h2v1h-2zM492 292h2v1h-2zM518 292h1v1h-1zM286 293h5v1h-5zM405 293h2v1h-2zM491 293h1v1h-1zM519 293h1v2h-1zM407 294h3v1h-3zM490 294h1v1h-1zM410 295h2v1h-2zM489 295h1v1h-1zM520 295h1v1h-1zM412 296h2v1h-2zM488 296h1v1h-1zM521 296h1v1h-1zM414 297h2v1h-2zM487 297h1v1h-1zM522 297h1v1h-1zM416 298h1v1h-1zM486 298h1v1h-1zM523 298h1v1h-1zM417 299h1v1h-1zM484 299h2v1h-2zM524 299h1v1h-1zM418 300h2v1h-2zM483 300h1v1h-1zM525 300h1v2h-1zM420 301h1v1h-1zM482 301h1v1h-1zM421 302h1v1h-1zM481 302h1v1h-1zM526 302h1v1h-1zM422 303h2v1h-2zM470 303h3v1h-3zM480 303h1v1h-1zM527 303h1v1h-1zM424 304h1v1h-1zM469 304h1v1h-1zM473 304h4v1h-4zM479 304h1v1h-1zM528 304h1v1h-1zM425 305h1v1h-1zM468 305h1v1h-1zM477 305h2v1h-2zM529 305h1v1h-1zM426 306h2v1h-2zM467 306h1v1h-1zM530 306h1v1h-1zM428 307h1v1h-1zM465 307h2v1h-2zM531 307h1v1h-1zM429 308h2v1h-2zM464 308h1v1h-1zM532 308h1v1h-1zM431 309h2v1h-2zM463 309h1v1h-1zM533 309h1v1h-1zM433 310h1v1h-1zM462 310h1v1h-1zM534 310h1v1h-1zM434 311h2v1h-2zM461 311h1v1h-1zM535 311h1v1h-1zM436 312h2v1h-2zM460 312h1v1h-1zM536 312h1v1h-1zM438 313h2v1h-2zM459 313h1v1h-1zM537 313h1v1h-1zM440 314h2v1h-2zM457 314h2v1h-2zM538 314h1v1h-1zM442 315h4v1h-4zM456 315h1v1h-1zM539 315h1v1h-1zM446 316h6v1h-6zM455 316h1v1h-1zM540 316h1v1h-1zM452 317h3v1h-3zM541 317h1v1h-1zM1118 317h1v1h-1zM542 318h1v1h-1zM1117 318h1v1h-1zM543 319h1v1h-1zM1116 319h1v1h-1zM544 320h1v1h-1zM1115 320h1v1h-1zM545 321h1v1h-1zM1113 321h2v1h-2zM546 322h1v2h-1zM1112 322h1v1h-1zM1111 323h1v1h-1zM547 324h1v1h-1zM1110 324h1v1h-1zM548 325h1v1h-1zM1108 325h2v1h-2zM549 326h1v1h-1zM1106 326h2v1h-2zM550 327h1v1h-1zM1104 327h2v1h-2zM551 328h1v2h-1zM1103 328h1v1h-1zM1102 329h1v1h-1zM552 330h1v1h-1zM1101 330h1v2h-1zM553 331h1v1h-1zM554 332h1v1h-1zM1100 332h1v1h-1zM555 333h1v1h-1zM1099 333h1v1h-1zM556 334h1v2h-1zM1098 334h1v1h-1zM1097 335h1v2h-1zM557 336h1v1h-1zM558 337h1v1h-1zM1096 337h1v1h-1zM559 338h1v1h-1zM1095 338h1v1h-1zM560 339h1v2h-1zM1094 339h1v1h-1zM1093 340h1v2h-1zM561 341h1v1h-1zM562 342h1v1h-1zM1092 342h1v1h-1zM563 343h1v2h-1zM1091 343h1v1h-1zM1090 344h1v2h-1zM564 345h1v1h-1zM565 346h1v1h-1zM1089 346h1v1h-1zM566 347h1v2h-1zM1088 347h1v1h-1zM1087 348h1v2h-1zM567 349h1v1h-1zM568 350h1v2h-1zM1086 350h1v1h-1zM1084 351h2v1h-2zM569 352h1v3h-1zM1082 352h2v1h-2zM1080 353h2v1h-2zM1069 354h11v1h-11zM570 355h1v3h-1zM681 355h3v1h-3zM1065 355h4v1h-4zM677 356h4v1h-4zM684 356h4v1h-4zM1063 356h2v1h-2zM673 357h4v1h-4zM688 357h4v1h-4zM1061 357h2v1h-2zM571 358h1v2h-1zM667 358h6v1h-6zM692 358h2v1h-2zM1059 358h2v1h-2zM659 359h8v1h-8zM694 359h1v1h-1zM1057 359h2v1h-2zM572 360h1v3h-1zM655 360h4v1h-4zM695 360h1v2h-1zM1055 360h2v1h-2zM654 361h1v1h-1zM1054 361h1v1h-1zM653 362h1v1h-1zM696 362h1v1h-1zM1053 362h1v1h-1zM573 363h1v3h-1zM651 363h2v1h-2zM697 363h1v1h-1zM1052 363h1v1h-1zM650 364h1v1h-1zM698 364h1v1h-1zM1050 364h2v1h-2zM649 365h1v1h-1zM699 365h1v2h-1zM1049 365h1v1h-1zM574 366h1v3h-1zM648 366h1v1h-1zM1048 366h1v1h-1zM647 367h1v1h-1zM700 367h1v1h-1zM1047 367h1v1h-1zM646 368h1v1h-1zM701 368h1v1h-1zM1046 368h1v1h-1zM575 369h1v2h-1zM644 369h2v1h-2zM702 369h1v1h-1zM1044 369h2v1h-2zM643 370h1v1h-1zM703 370h1v2h-1zM1043 370h1v1h-1zM576 371h1v2h-1zM642 371h1v1h-1zM1042 371h1v1h-1zM641 372h1v1h-1zM704 372h1v1h-1zM1040 372h2v1h-2zM577 373h1v2h-1zM640 373h1v1h-1zM705 373h1v1h-1zM1039 373h1v1h-1zM639 374h1v1h-1zM706 374h1v2h-1zM1038 374h1v1h-1zM578 375h1v2h-1zM638 375h1v1h-1zM1037 375h1v2h-1zM637 376h1v1h-1zM707 376h1v1h-1zM579 377h1v2h-1zM636 377h1v1h-1zM708 377h1v1h-1zM1036 377h1v1h-1zM635 378h1v1h-1zM709 378h1v2h-1zM1035 378h1v1h-1zM580 379h1v2h-1zM634 379h1v1h-1zM1034 379h1v2h-1zM633 380h1v1h-1zM710 380h1v1h-1zM581 381h2v1h-2zM631 381h2v1h-2zM711 381h1v1h-1zM1033 381h1v1h-1zM583 382h2v1h-2zM630 382h1v1h-1zM712 382h1v2h-1zM1032 382h1v1h-1zM585 383h2v1h-2zM629 383h1v1h-1zM1031 383h1v2h-1zM587 384h3v1h-3zM628 384h1v1h-1zM713 384h1v1h-1zM590 385h3v1h-3zM626 385h2v1h-2zM714 385h1v2h-1zM1030 385h1v1h-1zM593 386h3v1h-3zM625 386h1v1h-1zM1029 386h1v1h-1zM596 387h3v1h-3zM624 387h1v1h-1zM715 387h1v1h-1zM1028 387h1v2h-1zM599 388h2v1h-2zM622 388h2v1h-2zM716 388h1v2h-1zM601 389h3v1h-3zM620 389h2v1h-2zM1027 389h1v1h-1zM604 390h2v1h-2zM619 390h1v1h-1zM717 390h1v1h-1zM1026 390h1v1h-1zM606 391h3v1h-3zM617 391h2v1h-2zM718 391h1v1h-1zM1025 391h1v1h-1zM609 392h4v1h-4zM615 392h2v1h-2zM719 392h1v1h-1zM1024 392h1v1h-1zM613 393h2v1h-2zM720 393h1v1h-1zM1023 393h1v2h-1zM721 394h2v1h-2zM723 395h1v1h-1zM1022 395h1v1h-1zM724 396h1v1h-1zM1021 396h1v1h-1zM725 397h1v1h-1zM1020 397h1v1h-1zM726 398h1v1h-1zM1019 398h1v1h-1zM727 399h1v1h-1zM1018 399h1v1h-1zM728 400h1v1h-1zM1017 400h1v1h-1zM729 401h2v1h-2zM1016 401h1v2h-1zM731 402h1v1h-1zM732 403h1v1h-1zM1015 403h1v1h-1zM733 404h1v1h-1zM1014 404h1v1h-1zM734 405h1v1h-1zM1013 405h1v1h-1zM735 406h1v1h-1zM1012 406h1v1h-1zM736 407h1v1h-1zM1011 407h1v2h-1zM737 408h1v1h-1zM738 409h1v2h-1zM1010 409h1v1h-1zM1009 410h1v1h-1zM739 411h1v1h-1zM1008 411h1v2h-1zM740 412h1v1h-1zM741 413h1v1h-1zM1007 413h1v1h-1zM742 414h1v1h-1zM1006 414h1v2h-1zM743 415h1v1h-1zM744 416h1v2h-1zM1005 416h1v1h-1zM1004 417h1v2h-1zM745 418h1v1h-1zM746 419h1v2h-1zM1003 419h1v1h-1zM1002 420h1v1h-1zM747 421h1v1h-1zM1001 421h1v2h-1zM748 422h1v2h-1zM1000 423h1v1h-1zM749 424h1v1h-1zM999 424h1v2h-1zM750 425h1v2h-1zM998 426h1v1h-1zM751 427h1v1h-1zM837 427h3v1h-3zM997 427h1v2h-1zM752 428h1v1h-1zM833 428h4v1h-4zM840 428h2v1h-2zM753 429h1v1h-1zM830 429h3v1h-3zM842 429h2v1h-2zM996 429h1v2h-1zM754 430h1v1h-1zM828 430h2v1h-2zM844 430h2v1h-2zM755 431h1v1h-1zM827 431h1v1h-1zM846 431h2v1h-2zM995 431h1v1h-1zM756 432h1v1h-1zM825 432h2v1h-2zM848 432h2v1h-2zM994 432h1v2h-1zM757 433h1v1h-1zM823 433h2v1h-2zM850 433h2v1h-2zM758 434h1v1h-1zM822 434h1v1h-1zM852 434h2v1h-2zM993 434h1v2h-1zM759 435h1v1h-1zM821 435h1v1h-1zM854 435h5v1h-5zM760 436h1v1h-1zM820 436h1v1h-1zM859 436h5v1h-5zM992 436h1v2h-1zM761 437h1v1h-1zM819 437h1v1h-1zM864 437h4v1h-4zM762 438h1v1h-1zM818 438h1v1h-1zM868 438h4v1h-4zM991 438h1v1h-1zM763 439h1v1h-1zM817 439h1v1h-1zM872 439h3v1h-3zM990 439h1v2h-1zM764 440h1v1h-1zM816 440h1v1h-1zM875 440h4v1h-4zM765 441h1v1h-1zM815 441h1v1h-1zM879 441h3v1h-3zM989 441h1v1h-1zM766 442h1v1h-1zM814 442h1v1h-1zM882 442h2v1h-2zM988 442h1v1h-1zM767 443h1v1h-1zM813 443h1v1h-1zM884 443h2v1h-2zM987 443h1v2h-1zM768 444h2v1h-2zM812 444h1v1h-1zM886 444h6v1h-6zM899 444h9v1h-9zM770 445h2v1h-2zM811 445h1v1h-1zM892 445h7v1h-7zM908 445h6v1h-6zM986 445h1v1h-1zM772 446h2v1h-2zM810 446h1v1h-1zM914 446h2v1h-2zM985 446h1v1h-1zM774 447h1v1h-1zM809 447h1v1h-1zM916 447h2v1h-2zM984 447h1v2h-1zM775 448h2v1h-2zM808 448h1v1h-1zM918 448h2v1h-2zM777 449h2v1h-2zM807 449h1v1h-1zM920 449h2v1h-2zM983 449h1v1h-1zM779 450h1v1h-1zM806 450h1v1h-1zM922 450h2v1h-2zM982 450h1v1h-1zM780 451h2v1h-2zM805 451h1v1h-1zM924 451h1v1h-1zM980 451h2v1h-2zM782 452h2v1h-2zM803 452h2v1h-2zM925 452h2v1h-2zM979 452h1v1h-1zM784 453h2v1h-2zM802 453h1v1h-1zM927 453h1v1h-1zM978 453h1v1h-1zM786 454h2v1h-2zM801 454h1v1h-1zM928 454h1v1h-1zM976 454h2v1h-2zM788 455h2v1h-2zM799 455h2v1h-2zM929 455h1v1h-1zM975 455h1v1h-1zM790 456h9v1h-9zM930 456h1v1h-1zM974 456h1v1h-1zM931 457h1v1h-1zM973 457h1v1h-1zM932 458h1v1h-1zM972 458h1v2h-1zM933 459h1v1h-1zM934 460h1v1h-1zM971 460h1v1h-1zM935 461h1v1h-1zM970 461h1v1h-1zM936 462h1v1h-1zM969 462h1v1h-1zM937 463h1v2h-1zM968 463h1v2h-1zM938 465h1v1h-1zM967 465h1v1h-1zM939 466h2v1h-2zM966 466h1v1h-1zM941 467h2v1h-2zM964 467h2v1h-2zM943 468h2v1h-2zM963 468h1v1h-1zM945 469h2v1h-2zM961 469h2v1h-2zM947 470h6v1h-6zM959 470h2v1h-2zM953 471h6v1h-6z"/>
<path fill="#0000cd" d="M14 84h11v1h-11zM13 85h1v2h-1zM24 85h1v1h-1zM25 86h1v3h-1zM12 87h1v2h-1zM11 89h1v2h-1zM26 89h1v3h-1zM10 91h1v2h-1zM27 92h1v3h-1zM9 93h1v2h-1zM7 95h2v1h-2zM28 95h1v4h-1zM6 96h1v1h-1zM29 99h1v4h-1zM30 103h1v4h-1zM31 107h1v3h-1zM32 110h1v4h-1zM33 114h1v3h-1zM34 117h1v4h-1zM35 121h1v3h-1zM36 124h1v4h-1zM37 128h1v3h-1zM158 128h1v1h-1zM156 129h2v1h-2zM159 129h2v1h-2zM154 130h2v1h-2zM161 130h2v1h-2zM38 131h1v4h-1zM152 131h2v1h-2zM163 131h2v1h-2zM150 132h2v1h-2zM165 132h1v1h-1zM149 133h1v1h-1zM166 133h1v1h-1zM148 134h1v1h-1zM167 134h1v2h-1zM39 135h1v3h-1zM147 135h1v1h-1zM146 136h1v1h-1zM168 136h1v1h-1zM145 137h1v1h-1zM169 137h1v1h-1zM40 138h1v4h-1zM144 138h1v1h-1zM170 138h1v1h-1zM143 139h1v1h-1zM171 139h1v1h-1zM142 140h1v2h-1zM172 140h1v2h-1zM41 142h1v3h-1zM141 142h1v3h-1zM173 142h1v1h-1zM174 143h1v1h-1zM175 144h1v2h-1zM42 145h1v3h-1zM140 145h1v4h-1zM176 146h1v4h-1zM43 148h1v3h-1zM139 149h1v3h-1zM177 150h1v3h-1zM44 151h1v3h-1zM138 152h1v3h-1zM178 153h1v4h-1zM45 154h1v3h-1zM137 155h1v4h-1zM46 157h1v3h-1zM179 157h1v3h-1zM136 159h1v3h-1zM47 160h1v2h-1zM180 160h1v3h-1zM48 162h1v2h-1zM135 162h1v2h-1zM181 163h1v4h-1zM49 164h1v2h-1zM134 164h1v2h-1zM50 166h1v2h-1zM133 166h1v1h-1zM132 167h1v1h-1zM182 167h1v3h-1zM51 168h1v2h-1zM131 168h1v2h-1zM52 170h1v2h-1zM130 170h1v1h-1zM183 170h1v3h-1zM129 171h1v1h-1zM53 172h1v2h-1zM128 172h1v2h-1zM184 173h1v3h-1zM54 174h1v2h-1zM127 174h1v2h-1zM55 176h1v2h-1zM126 176h1v3h-1zM185 176h1v4h-1zM56 178h1v2h-1zM125 179h1v3h-1zM57 180h1v2h-1zM186 180h1v3h-1zM58 182h1v2h-1zM124 182h1v3h-1zM187 183h1v3h-1zM59 184h1v2h-1zM123 185h1v3h-1zM60 186h1v2h-1zM188 186h1v3h-1zM61 188h1v2h-1zM122 188h1v3h-1zM189 189h1v2h-1zM62 190h1v2h-1zM121 191h1v3h-1zM190 191h1v3h-1zM63 192h1v2h-1zM64 194h1v3h-1zM120 194h1v3h-1zM191 194h1v3h-1zM65 197h1v3h-1zM119 197h1v2h-1zM192 197h1v2h-1zM118 199h1v2h-1zM193 199h1v3h-1zM66 200h1v3h-1zM117 201h1v1h-1zM116 202h1v2h-1zM194 202h1v3h-1zM67 203h1v2h-1zM115 204h1v1h-1zM68 205h1v3h-1zM114 205h1v1h-1zM195 205h1v2h-1zM113 206h1v2h-1zM196 207h1v3h-1zM69 208h1v3h-1zM112 208h1v1h-1zM111 209h1v2h-1zM197 210h1v3h-1zM70 211h1v1h-1zM110 211h1v1h-1zM70 212h2v1h-2zM109 212h1v1h-1zM72 213h2v1h-2zM108 213h1v1h-1zM198 213h1v2h-1zM74 214h2v1h-2zM107 214h1v1h-1zM76 215h2v1h-2zM106 215h1v2h-1zM199 215h1v4h-1zM78 216h1v2h-1zM105 217h1v1h-1zM79 218h1v2h-1zM104 218h1v1h-1zM103 219h1v1h-1zM200 219h1v4h-1zM80 220h1v2h-1zM102 220h1v1h-1zM101 221h1v1h-1zM81 222h1v2h-1zM100 222h1v1h-1zM99 223h1v2h-1zM201 223h1v4h-1zM82 224h1v2h-1zM98 225h1v1h-1zM83 226h1v2h-1zM97 226h1v1h-1zM96 227h1v1h-1zM202 227h1v4h-1zM84 228h1v2h-1zM94 228h2v1h-2zM343 228h5v1h-5zM92 229h2v1h-2zM341 229h2v1h-2zM348 229h4v1h-4zM85 230h1v2h-1zM90 230h2v1h-2zM339 230h2v1h-2zM352 230h1v1h-1zM88 231h2v1h-2zM203 231h1v4h-1zM338 231h1v1h-1zM353 231h1v2h-1zM86 232h2v1h-2zM336 232h2v1h-2zM334 233h2v1h-2zM354 233h1v1h-1zM332 234h2v1h-2zM355 234h1v1h-1zM204 235h1v4h-1zM330 235h2v1h-2zM356 235h1v2h-1zM328 236h2v1h-2zM325 237h3v1h-3zM357 237h1v1h-1zM323 238h2v1h-2zM358 238h1v1h-1zM205 239h1v4h-1zM321 239h2v1h-2zM359 239h1v2h-1zM319 240h2v1h-2zM318 241h1v1h-1zM360 241h1v1h-1zM317 242h1v1h-1zM361 242h1v2h-1zM206 243h1v4h-1zM316 243h1v1h-1zM314 244h2v1h-2zM362 244h1v2h-1zM313 245h1v1h-1zM312 246h1v1h-1zM363 246h1v1h-1zM207 247h1v2h-1zM311 247h1v1h-1zM364 247h1v2h-1zM310 248h1v2h-1zM208 249h1v2h-1zM365 249h1v1h-1zM309 250h1v2h-1zM366 250h1v2h-1zM209 251h1v2h-1zM308 252h1v2h-1zM367 252h1v3h-1zM210 253h1v2h-1zM471 253h2v1h-2zM307 254h1v2h-1zM470 254h1v1h-1zM473 254h3v1h-3zM211 255h1v2h-1zM368 255h1v4h-1zM469 255h1v1h-1zM476 255h2v1h-2zM306 256h1v2h-1zM468 256h1v1h-1zM478 256h3v1h-3zM212 257h1v2h-1zM467 257h1v1h-1zM481 257h3v1h-3zM305 258h1v2h-1zM466 258h1v1h-1zM484 258h2v1h-2zM213 259h1v2h-1zM369 259h1v5h-1zM465 259h1v1h-1zM486 259h6v1h-6zM304 260h1v2h-1zM464 260h1v1h-1zM492 260h4v1h-4zM214 261h1v3h-1zM463 261h1v1h-1zM496 261h1v2h-1zM303 262h1v2h-1zM462 262h1v2h-1zM497 263h1v1h-1zM215 264h1v4h-1zM302 264h1v1h-1zM370 264h1v4h-1zM461 264h1v3h-1zM498 264h1v2h-1zM301 265h1v2h-1zM499 266h1v2h-1zM300 267h1v1h-1zM460 267h1v3h-1zM216 268h1v3h-1zM299 268h1v1h-1zM371 268h1v4h-1zM500 268h1v1h-1zM298 269h1v2h-1zM501 269h1v2h-1zM459 270h1v3h-1zM217 271h1v4h-1zM297 271h1v1h-1zM502 271h1v2h-1zM296 272h1v2h-1zM372 272h1v4h-1zM458 273h1v3h-1zM503 273h1v2h-1zM295 274h1v1h-1zM218 275h1v3h-1zM294 275h1v1h-1zM504 275h1v2h-1zM293 276h1v1h-1zM373 276h1v3h-1zM457 276h1v4h-1zM292 277h1v1h-1zM505 277h1v2h-1zM219 278h1v3h-1zM291 278h1v2h-1zM374 279h1v4h-1zM506 279h1v2h-1zM290 280h1v1h-1zM456 280h1v3h-1zM220 281h1v4h-1zM289 281h1v1h-1zM507 281h1v2h-1zM288 282h1v1h-1zM1118 282h1v2h-1zM287 283h1v1h-1zM375 283h1v3h-1zM455 283h1v3h-1zM508 283h1v2h-1zM286 284h1v1h-1zM1117 284h1v4h-1zM221 285h1v2h-1zM285 285h1v1h-1zM509 285h1v2h-1zM284 286h1v2h-1zM376 286h1v3h-1zM454 286h1v3h-1zM222 287h1v2h-1zM510 287h1v2h-1zM283 288h1v1h-1zM1116 288h1v4h-1zM223 289h1v2h-1zM282 289h1v1h-1zM377 289h1v3h-1zM453 289h1v2h-1zM511 289h1v4h-1zM281 290h1v1h-1zM224 291h1v1h-1zM280 291h1v1h-1zM452 291h1v2h-1zM225 292h1v2h-1zM279 292h1v2h-1zM378 292h1v4h-1zM1115 292h1v3h-1zM451 293h1v2h-1zM512 293h1v4h-1zM226 294h1v2h-1zM278 294h1v1h-1zM277 295h1v2h-1zM450 295h1v2h-1zM1114 295h1v3h-1zM227 296h1v1h-1zM379 296h1v3h-1zM228 297h1v2h-1zM276 297h1v1h-1zM449 297h1v2h-1zM513 297h1v4h-1zM275 298h1v1h-1zM1113 298h1v4h-1zM229 299h1v2h-1zM274 299h1v2h-1zM380 299h1v3h-1zM448 299h1v3h-1zM230 301h1v1h-1zM273 301h1v1h-1zM514 301h1v3h-1zM231 302h1v1h-1zM272 302h1v2h-1zM381 302h1v3h-1zM447 302h1v2h-1zM1112 302h1v3h-1zM232 303h1v2h-1zM270 304h2v1h-2zM446 304h1v3h-1zM515 304h1v4h-1zM1039 304h1v1h-1zM233 305h1v1h-1zM266 305h4v1h-4zM382 305h1v3h-1zM1038 305h1v1h-1zM1040 305h1v2h-1zM1111 305h1v4h-1zM234 306h1v1h-1zM264 306h2v1h-2zM1037 306h1v1h-1zM235 307h1v1h-1zM263 307h1v1h-1zM445 307h1v2h-1zM1036 307h1v1h-1zM1041 307h1v1h-1zM236 308h1v1h-1zM262 308h1v1h-1zM383 308h1v3h-1zM516 308h1v4h-1zM1034 308h2v1h-2zM1042 308h1v2h-1zM237 309h1v2h-1zM261 309h1v1h-1zM444 309h1v3h-1zM1033 309h1v1h-1zM1110 309h1v4h-1zM260 310h1v1h-1zM1032 310h1v1h-1zM1043 310h1v2h-1zM238 311h1v1h-1zM259 311h1v2h-1zM384 311h1v3h-1zM1031 311h1v1h-1zM239 312h2v1h-2zM443 312h1v2h-1zM517 312h1v4h-1zM1030 312h1v1h-1zM1044 312h1v1h-1zM241 313h3v1h-3zM258 313h1v1h-1zM1029 313h1v1h-1zM1045 313h1v2h-1zM1109 313h1v4h-1zM244 314h3v1h-3zM257 314h1v1h-1zM385 314h1v3h-1zM442 314h1v2h-1zM1027 314h2v1h-2zM247 315h3v1h-3zM256 315h1v1h-1zM1026 315h1v1h-1zM1046 315h1v2h-1zM250 316h3v1h-3zM255 316h1v1h-1zM441 316h1v2h-1zM518 316h1v4h-1zM1025 316h1v1h-1zM253 317h2v1h-2zM386 317h1v2h-1zM1023 317h2v1h-2zM1047 317h1v2h-1zM1108 317h1v4h-1zM440 318h1v2h-1zM1022 318h1v1h-1zM387 319h1v3h-1zM1021 319h1v2h-1zM1048 319h1v2h-1zM439 320h1v2h-1zM519 320h1v4h-1zM1020 321h1v2h-1zM1049 321h1v2h-1zM1107 321h1v4h-1zM388 322h1v3h-1zM438 322h1v2h-1zM1019 323h1v2h-1zM1050 323h1v3h-1zM437 324h1v2h-1zM520 324h1v4h-1zM389 325h1v2h-1zM1018 325h1v2h-1zM1106 325h1v5h-1zM436 326h1v1h-1zM1051 326h1v2h-1zM390 327h1v3h-1zM435 327h1v2h-1zM655 327h1v1h-1zM1017 327h1v2h-1zM521 328h1v4h-1zM653 328h2v1h-2zM656 328h1v1h-1zM1052 328h1v2h-1zM434 329h1v2h-1zM651 329h2v1h-2zM657 329h1v1h-1zM1016 329h1v2h-1zM391 330h1v3h-1zM649 330h2v1h-2zM658 330h2v1h-2zM1053 330h1v2h-1zM1105 330h1v4h-1zM433 331h1v2h-1zM647 331h2v1h-2zM660 331h1v1h-1zM1015 331h1v2h-1zM522 332h1v4h-1zM646 332h1v1h-1zM661 332h1v1h-1zM1054 332h1v2h-1zM392 333h1v2h-1zM432 333h1v2h-1zM644 333h2v1h-2zM662 333h1v1h-1zM1014 333h1v3h-1zM643 334h1v1h-1zM663 334h2v1h-2zM1055 334h1v3h-1zM1104 334h1v4h-1zM393 335h1v3h-1zM431 335h1v2h-1zM642 335h1v1h-1zM665 335h2v1h-2zM523 336h1v4h-1zM640 336h2v1h-2zM667 336h2v1h-2zM1013 336h1v3h-1zM430 337h1v2h-1zM639 337h1v1h-1zM669 337h2v1h-2zM1056 337h1v2h-1zM394 338h1v2h-1zM638 338h1v2h-1zM671 338h1v1h-1zM1103 338h1v5h-1zM429 339h1v2h-1zM672 339h1v1h-1zM1012 339h1v3h-1zM1057 339h1v2h-1zM395 340h1v3h-1zM524 340h1v4h-1zM637 340h1v2h-1zM673 340h2v1h-2zM428 341h1v3h-1zM675 341h1v1h-1zM1058 341h1v2h-1zM636 342h1v1h-1zM676 342h1v1h-1zM1011 342h1v4h-1zM396 343h1v3h-1zM635 343h1v2h-1zM677 343h1v1h-1zM1059 343h1v2h-1zM1102 343h1v4h-1zM427 344h1v2h-1zM525 344h1v4h-1zM678 344h1v1h-1zM634 345h1v2h-1zM679 345h1v2h-1zM1060 345h1v2h-1zM397 346h1v2h-1zM426 346h1v3h-1zM1010 346h1v3h-1zM633 347h1v1h-1zM680 347h1v1h-1zM1061 347h1v2h-1zM1101 347h1v4h-1zM398 348h1v2h-1zM526 348h1v3h-1zM632 348h1v2h-1zM681 348h1v1h-1zM425 349h1v3h-1zM682 349h1v2h-1zM1009 349h1v3h-1zM1062 349h1v2h-1zM399 350h1v1h-1zM631 350h1v2h-1zM400 351h1v2h-1zM527 351h1v2h-1zM683 351h1v1h-1zM1063 351h1v3h-1zM1100 351h1v4h-1zM424 352h1v2h-1zM630 352h1v1h-1zM684 352h1v1h-1zM1008 352h1v3h-1zM401 353h1v1h-1zM528 353h1v2h-1zM629 353h1v2h-1zM685 353h1v2h-1zM402 354h1v1h-1zM414 354h5v1h-5zM423 354h1v1h-1zM1064 354h1v3h-1zM403 355h1v1h-1zM412 355h2v1h-2zM419 355h5v1h-5zM529 355h1v1h-1zM628 355h1v2h-1zM686 355h1v2h-1zM1007 355h1v3h-1zM1099 355h1v4h-1zM404 356h1v2h-1zM411 356h1v1h-1zM530 356h1v2h-1zM409 357h2v1h-2zM627 357h1v1h-1zM687 357h1v3h-1zM1065 357h1v2h-1zM405 358h1v1h-1zM407 358h2v1h-2zM531 358h1v2h-1zM626 358h1v2h-1zM1006 358h1v4h-1zM406 359h1v1h-1zM1066 359h1v3h-1zM1098 359h1v4h-1zM532 360h1v1h-1zM625 360h1v2h-1zM688 360h1v3h-1zM533 361h1v2h-1zM624 362h1v1h-1zM1005 362h1v3h-1zM1067 362h1v3h-1zM534 363h1v2h-1zM623 363h1v2h-1zM689 363h1v3h-1zM1097 363h1v4h-1zM535 365h1v2h-1zM622 365h1v2h-1zM1004 365h1v3h-1zM1068 365h1v2h-1zM690 366h1v3h-1zM536 367h1v2h-1zM621 367h1v2h-1zM1069 367h1v3h-1zM1096 367h1v4h-1zM1003 368h1v4h-1zM537 369h1v2h-1zM620 369h1v2h-1zM691 369h1v3h-1zM1070 370h1v3h-1zM538 371h1v2h-1zM619 371h1v2h-1zM1095 371h1v3h-1zM692 372h1v3h-1zM1002 372h1v4h-1zM539 373h1v3h-1zM618 373h1v2h-1zM1071 373h1v2h-1zM1094 374h1v2h-1zM617 375h1v2h-1zM693 375h1v3h-1zM1072 375h1v3h-1zM540 376h1v2h-1zM1001 376h1v4h-1zM1093 376h1v2h-1zM616 377h1v2h-1zM541 378h1v2h-1zM694 378h1v3h-1zM1073 378h1v3h-1zM1092 378h1v2h-1zM614 379h2v1h-2zM542 380h1v2h-1zM612 380h2v1h-2zM1000 380h1v3h-1zM1091 380h1v2h-1zM609 381h3v1h-3zM695 381h1v3h-1zM1074 381h1v2h-1zM543 382h1v2h-1zM607 382h2v1h-2zM1090 382h1v2h-1zM606 383h1v2h-1zM999 383h1v4h-1zM1075 383h1v3h-1zM544 384h1v3h-1zM696 384h1v3h-1zM1089 384h1v2h-1zM605 385h1v1h-1zM604 386h1v2h-1zM1076 386h1v3h-1zM1088 386h1v2h-1zM545 387h1v2h-1zM697 387h1v3h-1zM998 387h1v4h-1zM603 388h1v1h-1zM1087 388h1v2h-1zM546 389h1v3h-1zM602 389h1v2h-1zM1077 389h1v2h-1zM698 390h1v3h-1zM1085 390h2v1h-2zM601 391h1v2h-1zM997 391h1v4h-1zM1078 391h1v1h-1zM1081 391h4v1h-4zM547 392h1v2h-1zM1078 392h3v1h-3zM600 393h1v1h-1zM699 393h1v3h-1zM548 394h1v3h-1zM599 394h1v2h-1zM996 395h1v4h-1zM598 396h1v1h-1zM700 396h1v3h-1zM549 397h1v2h-1zM597 397h1v2h-1zM550 399h1v1h-1zM596 399h1v1h-1zM701 399h1v4h-1zM995 399h1v4h-1zM550 400h2v1h-2zM595 400h1v1h-1zM552 401h2v1h-2zM594 401h1v2h-1zM554 402h2v1h-2zM556 403h2v1h-2zM593 403h1v1h-1zM702 403h1v4h-1zM994 403h1v4h-1zM558 404h2v1h-2zM592 404h1v1h-1zM560 405h2v1h-2zM591 405h1v2h-1zM562 406h1v1h-1zM563 407h1v1h-1zM590 407h1v1h-1zM703 407h1v3h-1zM993 407h1v4h-1zM564 408h2v1h-2zM588 408h2v1h-2zM566 409h1v1h-1zM586 409h2v1h-2zM567 410h2v1h-2zM584 410h2v1h-2zM704 410h1v4h-1zM569 411h4v1h-4zM579 411h5v1h-5zM992 411h1v4h-1zM573 412h6v1h-6zM837 413h2v1h-2zM705 414h1v3h-1zM835 414h2v1h-2zM839 414h2v1h-2zM832 415h3v1h-3zM841 415h2v1h-2zM991 415h1v4h-1zM822 416h10v1h-10zM843 416h1v1h-1zM706 417h1v4h-1zM821 417h1v1h-1zM844 417h2v1h-2zM820 418h1v2h-1zM846 418h1v1h-1zM847 419h1v1h-1zM990 419h1v3h-1zM819 420h1v1h-1zM848 420h1v1h-1zM707 421h1v4h-1zM818 421h1v1h-1zM849 421h1v1h-1zM817 422h1v1h-1zM850 422h1v2h-1zM989 422h1v2h-1zM816 423h1v2h-1zM851 424h1v1h-1zM988 424h1v3h-1zM708 425h1v3h-1zM815 425h1v1h-1zM852 425h1v1h-1zM814 426h1v1h-1zM853 426h1v1h-1zM813 427h1v1h-1zM854 427h1v1h-1zM987 427h1v3h-1zM709 428h1v4h-1zM811 428h2v1h-2zM855 428h1v2h-1zM810 429h1v1h-1zM809 430h1v1h-1zM856 430h1v1h-1zM986 430h1v3h-1zM807 431h2v1h-2zM857 431h1v1h-1zM710 432h1v2h-1zM806 432h1v1h-1zM858 432h1v2h-1zM805 433h1v1h-1zM985 433h1v4h-1zM711 434h1v2h-1zM804 434h1v2h-1zM859 434h1v1h-1zM860 435h1v1h-1zM712 436h1v2h-1zM803 436h1v1h-1zM861 436h1v2h-1zM802 437h1v1h-1zM984 437h1v3h-1zM713 438h1v2h-1zM801 438h1v1h-1zM862 438h1v1h-1zM800 439h1v2h-1zM863 439h1v2h-1zM714 440h1v1h-1zM983 440h1v4h-1zM715 441h1v2h-1zM799 441h1v1h-1zM864 441h1v1h-1zM781 442h3v1h-3zM797 442h2v1h-2zM865 442h1v2h-1zM716 443h1v2h-1zM777 443h4v1h-4zM784 443h3v1h-3zM795 443h2v1h-2zM774 444h3v1h-3zM787 444h3v1h-3zM793 444h2v1h-2zM866 444h1v1h-1zM982 444h1v2h-1zM717 445h1v1h-1zM773 445h1v1h-1zM790 445h3v1h-3zM867 445h1v2h-1zM718 446h1v2h-1zM772 446h1v2h-1zM981 446h1v2h-1zM868 447h1v1h-1zM719 448h1v2h-1zM771 448h1v1h-1zM869 448h1v2h-1zM980 448h1v1h-1zM770 449h1v1h-1zM979 449h1v1h-1zM720 450h1v2h-1zM769 450h1v2h-1zM870 450h1v1h-1zM978 450h1v2h-1zM871 451h1v2h-1zM721 452h1v1h-1zM768 452h1v1h-1zM977 452h1v1h-1zM722 453h1v2h-1zM767 453h1v1h-1zM872 453h1v1h-1zM976 453h1v1h-1zM765 454h2v1h-2zM873 454h1v2h-1zM975 454h1v2h-1zM723 455h1v2h-1zM763 455h2v1h-2zM761 456h2v1h-2zM874 456h1v1h-1zM923 456h5v1h-5zM974 456h1v1h-1zM724 457h1v1h-1zM759 457h2v1h-2zM875 457h1v2h-1zM918 457h5v1h-5zM928 457h2v1h-2zM973 457h1v2h-1zM725 458h1v1h-1zM758 458h1v1h-1zM916 458h2v1h-2zM930 458h2v1h-2zM726 459h1v1h-1zM757 459h1v2h-1zM876 459h1v1h-1zM915 459h1v1h-1zM932 459h1v1h-1zM972 459h1v1h-1zM727 460h1v1h-1zM877 460h1v2h-1zM913 460h2v1h-2zM933 460h2v1h-2zM971 460h1v1h-1zM728 461h1v1h-1zM756 461h1v1h-1zM911 461h2v1h-2zM935 461h1v1h-1zM970 461h1v2h-1zM729 462h1v1h-1zM755 462h1v1h-1zM878 462h1v1h-1zM910 462h1v1h-1zM936 462h2v1h-2zM730 463h1v1h-1zM754 463h1v1h-1zM879 463h1v1h-1zM909 463h1v1h-1zM938 463h1v1h-1zM969 463h1v1h-1zM731 464h1v1h-1zM753 464h1v2h-1zM880 464h1v1h-1zM908 464h1v1h-1zM939 464h1v1h-1zM968 464h1v1h-1zM732 465h1v1h-1zM881 465h1v1h-1zM907 465h1v1h-1zM940 465h2v1h-2zM967 465h1v2h-1zM733 466h1v1h-1zM752 466h1v1h-1zM882 466h1v2h-1zM906 466h1v1h-1zM942 466h5v1h-5zM734 467h2v1h-2zM751 467h1v1h-1zM905 467h1v1h-1zM947 467h4v1h-4zM966 467h1v1h-1zM736 468h2v1h-2zM749 468h2v1h-2zM883 468h1v1h-1zM904 468h1v1h-1zM951 468h1v1h-1zM965 468h1v1h-1zM738 469h2v1h-2zM747 469h2v1h-2zM884 469h1v1h-1zM903 469h1v1h-1zM952 469h1v1h-1zM964 469h1v1h-1zM740 470h2v1h-2zM745 470h2v1h-2zM885 470h1v1h-1zM902 470h1v1h-1zM953 470h2v1h-2zM963 470h1v1h-1zM742 471h3v1h-3zM886 471h1v1h-1zM901 471h1v1h-1zM955 471h1v1h-1zM961 471h2v1h-2zM887 472h2v1h-2zM899 472h2v1h-2zM956 472h1v1h-1zM960 472h1v1h-1zM889 473h2v1h-2zM898 473h1v1h-1zM957 473h1v1h-1zM959 473h1v1h-1zM891 474h1v1h-1zM897 474h1v1h-1zM958 474h1v1h-1zM892 475h2v1h-2zM895 475h2v1h-2zM894 476h1v1h-1z"/>
<rect x="616" y="129" width="573" height="6" fill="#f83636"/>
<rect x="619" y="280" width="566" height="5" fill="#99cc00"/>
<rect x="623" y="436" width="566" height="5" fill="#3a92e3"/>
</g>
<rect x="6" y="586" width="1" height="34" fill="#c0c0c0"/>
<rect x="14" y="587" width="1" height="33" fill="#c0c0c0"/>
<rect x="22" y="594" width="1" height="26" fill="#c0c0c0"/>
<rect x="30" y="601" width="1" height="19" fill="#c0c0c0"/>
<rect x="38" y="607" width="1" height="13" fill="#c0c0c0"/>
<rect x="46" y="615" width="1" height="5" fill="#c0c0c0"/>
<rect x="54" y="619" width="1" height="1" fill="#c0c0c0"/>
<rect x="62" y="619" width="1" height="6" fill="#c0c0c0"/>
<rect x="70" y="619" width="1" height="10" fill="#c0c0c0"/>
<rect x="78" y="619" width="1" height="11" fill="#c0c0c0"/>
<rect x="86" y="619" width="1" height="18" fill="#c0c0c0"/>
<rect x="94" y="619" width="1" height="14" fill="#c0c0c0"/>
<rect x="102" y="619" width="1" height="11" fill="#c0c0c0"/>
<rect x="110" y="619" width="1" height="7" fill="#c0c0c0"/>
<rect x="118" y="619" width="1" height="3" fill="#c0c0c0"/>
<rect x="126" y="614" width="1" height="6" fill="#c0c0c0"/>
<rect x="134" y="612" width="1" height="8" fill="#c0c0c0"/>
<rect x="142" y="608" width="1" height="12" fill="#c0c0c0"/>
<rect x="150" y="607" width="1" height="13" fill="#c0c0c0"/>
<rect x="158" y="607" width="1" height="13" fill="#c0c0c0"/>
<rect x="166" y="611" width="1" height="9" fill="#c0c0c0"/>
<rect x="174" y="618" width="1" height="2" fill="#c0c0c0"/>
<rect x="182" y="619" width="1" height="6" fill="#c0c0c0"/>
<rect x="190" y="619" width="1" height="14" fill="#c0c0c0"/>
<rect x="198" y="619" width="1" height="20" fill="#c0c0c0"/>
<rect x="206" y="619" width="1" height="29" fill="#c0c0c0"/>
<rect x="214" y="619" width="1" height="30" fill="#c0c0c0"/>
<rect x="222" y="619" width="1" height="37" fill="#c0c0c0"/>
<rect x="230" y="619" width="1" height="40" fill="#c0c0c0"/>
<rect x="238" y="619" width="1" height="41" fill="#c0c0c0"/>
<rect x="246" y="619" width="1" height="42" fill="#c0c0c0"/>
<rect x="254" y="619" width="1" height="40" fill="#c0c0c0"/>
<rect x="262" y="619" width="1" height="35" fill="#c0c0c0"/>
<rect x="270" y="619" width="1" height="31" fill="#c0c0c0"/>
<rect x="278" y="619" width="1" height="28" fill="#c0c0c0"/>
<rect x="286" y="619" width="1" height="25" fill="#c0c0c0"/>
<rect x="294" y="619" width="1" height="22" fill="#c0c0c0"/>
<rect x="302" y="619" width="1" height="18" fill="#c0c0c0"/>
<rect x="310" y="619" width="1" height="11" fill="#c0c0c0"/>
<rect x="318" y="619" width="1" height="7" fill="#c0c0c0"/>
<rect x="326" y="619" width="1" height="4" fill="#c0c0c0"/>
<rect x="334" y="619" width="1" height="3" fill="#c0c0c0"/>
<rect x="350" y="619" width="1" height="3" fill="#c0c0c0"/>
<rect x="358" y="619" width="1" height="8" fill="#c0c0c0"/>
<rect x="366" y="619" width="1" height="11" fill="#c0c0c0"/>
<rect x="374" y="619" width="1" height="24" fill="#c0c0c0"/>
<rect x="382" y="619" width="1" height="30" fill="#c0c0c0"/>
<rect x="390" y="619" width="1" height="36" fill="#c0c0c0"/>
<rect x="398" y="619" width="1" height="37" fill="#c0c0c0"/>
<rect x="406" y="619" width="1" height="35" fill="#c0c0c0"/>
<rect x="414" y="619" width="1" height="28" fill="#c0c0c0"/>
<rect x="422" y="619" width="1" height="25" fill="#c0c0c0"/>
<rect x="430" y="619" width="1" height="21" fill="#c0c0c0"/>
<rect x="438" y="619" width="1" height="17" fill="#c0c0c0"/>
<rect x="446" y="619" width="1" height="13" fill="#c0c0c0"/>
<rect x="454" y="619" width="1" height="7" fill="#c0c0c0"/>
<rect x="462" y="616" width="1" height="4" fill="#c0c0c0"/>
<rect x="470" y="612" width="1" height="8" fill="#c0c0c0"/>
<rect x="478" y="617" width="1" height="3" fill="#c0c0c0"/>
<rect x="486" y="619" width="1" height="1" fill="#c0c0c0"/>
<rect x="494" y="619" width="1" height="2" fill="#c0c0c0"/>
<rect x="502" y="619" width="1" height="7" fill="#c0c0c0"/>
<rect x="510" y="619" width="1" height="13" fill="#c0c0c0"/>
<rect x="518" y="619" width="1" height="20" fill="#c0c0c0"/>
<rect x="526" y="619" width="1" height="26" fill="#c0c0c0"/>
<rect x="534" y="619" width="1" height="30" fill="#c0c0c0"/>
<rect x="542" y="619" width="1" height="35" fill="#c0c0c0"/>
<rect x="550" y="619" width="1" height="38" fill="#c0c0c0"/>
<rect x="558" y="619" width="1" height="36" fill="#c0c0c0"/>
<rect x="566" y="619" width="1" height="37" fill="#c0c0c0"/>
<rect x="574" y="619" width="1" height="37" fill="#c0c0c0"/>
<rect x="582" y="619" width="1" height="37" fill="#c0c0c0"/>
<rect x="590" y="619" width="1" height="31" fill="#c0c0c0"/>
<rect x="598" y="619" width="1" height="28" fill="#c0c0c0"/>
<rect x="606" y="619" width="1" height="23" fill="#c0c0c0"/>
<rect x="614" y="619" width="1" height="20" fill="#c0c0c0"/>
<rect x="622" y="619" width="1" height="14" fill="#c0c0c0"/>
<rect x="630" y="619" width="1" height="9" fill="#c0c0c0"/>
<rect x="638" y="619" width="1" height="4" fill="#c0c0c0"/>
<rect x="646" y="619" width="1" height="2" fill="#c0c0c0"/>
<rect x="662" y="619" width="1" height="5" fill="#c0c0c0"/>
<rect x="670" y="619" width="1" height="7" fill="#c0c0c0"/>
<rect x="678" y="619" width="1" height="7" fill="#c0c0c0"/>
<rect x="686" y="619" width="1" height="11" fill="#c0c0c0"/>
<rect x="694" y="619" width="1" height="20" fill="#c0c0c0"/>
<rect x="702" y="619" width="1" height="30" fill="#c0c0c0"/>
<rect x="710" y="619" width="1" height="35" fill="#c0c0c0"/>
<rect x="718" y="619" width="1" height="39" fill="#c0c0c0"/>
<rect x="726" y="619" width="1" height="38" fill="#c0c0c0"/>
<rect x="734" y="619" width="1" height="33" fill="#c0c0c0"/>
<rect x="742" y="619" width="1" height="31" fill="#c0c0c0"/>
<rect x="750" y="619" width="1" height="31" fill="#c0c0c0"/>
<rect x="758" y="619" width="1" height="30" fill="#c0c0c0"/>
<rect x="766" y="619" width="1" height="29" fill="#c0c0c0"/>
<rect x="774" y="619" width="1" height="26" fill="#c0c0c0"/>
<rect x="782" y="619" width="1" height="25" fill="#c0c0c0"/>
<rect x="790" y="619" width="1" height="23" fill="#c0c0c0"/>
<rect x="798" y="619" width="1" height="19" fill="#c0c0c0"/>
<rect x="806" y="619" width="1" height="15" fill="#c0c0c0"/>
<rect x="814" y="619" width="1" height="10" fill="#c0c0c0"/>
<rect x="822" y="619" width="1" height="7" fill="#c0c0c0"/>
<rect x="830" y="619" width="1" height="8" fill="#c0c0c0"/>
<rect x="838" y="619" width="1" height="8" fill="#c0c0c0"/>
<rect x="846" y="619" width="1" height="11" fill="#c0c0c0"/>
<rect x="854" y="619" width="1" height="15" fill="#c0c0c0"/>
<rect x="862" y="619" width="1" height="17" fill="#c0c0c0"/>
<rect x="870" y="619" width="1" height="18" fill="#c0c0c0"/>
<rect x="878" y="619" width="1" height="19" fill="#c0c0c0"/>
<rect x="886" y="619" width="1" height="21" fill="#c0c0c0"/>
<rect x="894" y="619" width="1" height="19" fill="#c0c0c0"/>
<rect x="902" y="619" width="1" height="15" fill="#c0c0c0"/>
<rect x="910" y="619" width="1" height="11" fill="#c0c0c0"/>
<rect x="918" y="619" width="1" height="10" fill="#c0c0c0"/>
<rect x="926" y="619" width="1" height="11" fill="#c0c0c0"/>
<rect x="934" y="619" width="1" height="16" fill="#c0c0c0"/>
<rect x="942" y="619" width="1" height="19" fill="#c0c0c0"/>
<rect x="950" y="619" width="1" height="18" fill="#c0c0c0"/>
<rect x="958" y="619" width="1" height="16" fill="#c0c0c0"/>
<rect x="966" y="619" width="1" height="8" fill="#c0c0c0"/>
<rect x="982" y="617" width="1" height="3" fill="#c0c0c0"/>
<rect x="990" y="609" width="1" height="11" fill="#c0c0c0"/>
<rect x="998" y="597" width="1" height="23" fill="#c0c0c0"/>
<rect x="1006" y="590" width="1" height="30" fill="#c0c0c0"/>
<rect x="1014" y="585" width="1" height="35" fill="#c0c0c0"/>
<rect x="1022" y="580" width="1" height="40" fill="#c0c0c0"/>
<rect x="1030" y="581" width="1" height="39" fill="#c0c0c0"/>
<rect x="1038" y="583" width="1" height="37" fill="#c0c0c0"/>
<rect x="1046" y="593" width="1" height="27" fill="#c0c0c0"/>
<rect x="1054" y="599" width="1" height="21" fill="#c0c0c0"/>
<rect x="1062" y="603" width="1" height="17" fill="#c0c0c0"/>
<rect x="1070" y="610" width="1" height="10" fill="#c0c0c0"/>
<rect x="1078" y="611" width="1" height="9" fill="#c0c0c0"/>
<rect x="1086" y="607" width="1" height="13" fill="#c0c0c0"/>
<rect x="1094" y="597" width="1" height="23" fill="#c0c0c0"/>
<rect x="1102" y="586" width="1" height="34" fill="#c0c0c0"/>
<rect x="1110" y="577" width="1" height="43" fill="#c0c0c0"/>
<rect x="1118" y="570" width="1" height="50" fill="#c0c0c0"/>
<path fill="#ff0000" d="M30 590h3v1h-3zM1056 590h3v1h-3zM1062 590h3v1h-3zM1068 590h3v1h-3zM25 591h2v1h-2zM36 591h3v1h-3zM1050 591h3v1h-3zM1074 591h1v1h-1zM19 592h2v1h-2zM24 592h1v1h-1zM42 592h3v1h-3zM1045 592h2v1h-2zM1075 592h2v1h-2zM13 593h2v1h-2zM18 593h1v1h-1zM1044 593h1v1h-1zM1080 593h1v1h-1zM12 594h1v1h-1zM48 594h2v1h-2zM1040 594h1v1h-1zM1081 594h2v1h-2zM8 595h1v1h-1zM50 595h1v1h-1zM1038 595h2v1h-2zM1086 595h3v1h-3zM1117 595h2v1h-2zM6 596h2v1h-2zM1092 596h1v1h-1zM1116 596h1v1h-1zM54 597h2v1h-2zM1093 597h2v1h-2zM1098 597h3v1h-3zM1104 597h3v1h-3zM1110 597h3v1h-3zM56 598h1v1h-1zM1033 598h2v1h-2zM1032 599h1v1h-1zM60 600h2v1h-2zM62 601h1v1h-1zM1028 602h1v1h-1zM66 603h1v1h-1zM1027 603h1v1h-1zM67 604h1v1h-1zM1026 604h1v1h-1zM68 605h1v1h-1zM72 607h1v1h-1zM1022 607h1v1h-1zM73 608h2v1h-2zM1020 608h2v1h-2zM78 611h1v1h-1zM1015 611h2v1h-2zM79 612h2v1h-2zM1014 612h1v1h-1zM174 613h3v1h-3zM180 613h3v1h-3zM169 614h2v1h-2zM186 614h3v1h-3zM84 615h2v1h-2zM168 615h1v1h-1zM192 615h1v1h-1zM86 616h1v1h-1zM162 616h3v1h-3zM193 616h2v1h-2zM1009 616h2v1h-2zM158 617h1v1h-1zM198 617h2v1h-2zM1008 617h1v1h-1zM156 618h2v1h-2zM200 618h1v1h-1zM90 619h1v1h-1zM91 620h2v1h-2zM204 620h2v1h-2zM1004 620h1v1h-1zM151 621h2v1h-2zM206 621h1v1h-1zM1003 621h1v1h-1zM150 622h1v1h-1zM1002 622h1v1h-1zM96 623h3v1h-3zM145 623h2v1h-2zM210 623h1v1h-1zM510 623h3v1h-3zM144 624h1v1h-1zM211 624h1v1h-1zM494 624h1v1h-1zM498 624h3v1h-3zM504 624h3v1h-3zM516 624h3v1h-3zM522 624h3v1h-3zM997 624h2v1h-2zM102 625h2v1h-2zM139 625h2v1h-2zM212 625h1v1h-1zM492 625h2v1h-2zM528 625h1v1h-1zM996 625h1v1h-1zM104 626h1v1h-1zM138 626h1v1h-1zM529 626h2v1h-2zM992 626h1v1h-1zM108 627h1v1h-1zM132 627h3v1h-3zM216 627h1v1h-1zM366 627h3v1h-3zM488 627h1v1h-1zM684 627h3v1h-3zM690 627h3v1h-3zM696 627h1v1h-1zM990 627h2v1h-2zM109 628h2v1h-2zM114 628h1v1h-1zM126 628h3v1h-3zM217 628h1v1h-1zM360 628h3v1h-3zM372 628h3v1h-3zM378 628h3v1h-3zM486 628h2v1h-2zM678 628h3v1h-3zM697 628h2v1h-2zM985 628h2v1h-2zM115 629h2v1h-2zM120 629h3v1h-3zM218 629h1v1h-1zM354 629h3v1h-3zM384 629h1v1h-1zM534 629h1v1h-1zM672 629h3v1h-3zM702 629h2v1h-2zM984 629h1v1h-1zM349 630h2v1h-2zM385 630h2v1h-2zM480 630h3v1h-3zM535 630h2v1h-2zM666 630h3v1h-3zM704 630h1v1h-1zM978 630h3v1h-3zM348 631h1v1h-1zM662 631h1v1h-1zM864 631h3v1h-3zM870 631h3v1h-3zM973 631h2v1h-2zM222 632h1v1h-1zM344 632h1v1h-1zM476 632h1v1h-1zM660 632h2v1h-2zM708 632h2v1h-2zM858 632h3v1h-3zM876 632h3v1h-3zM882 632h1v1h-1zM972 632h1v1h-1zM223 633h2v1h-2zM342 633h2v1h-2zM390 633h2v1h-2zM474 633h2v1h-2zM540 633h2v1h-2zM710 633h1v1h-1zM846 633h3v1h-3zM852 633h3v1h-3zM883 633h2v1h-2zM888 633h3v1h-3zM966 633h3v1h-3zM392 634h1v1h-1zM542 634h1v1h-1zM656 634h1v1h-1zM714 634h3v1h-3zM841 634h2v1h-2zM894 634h3v1h-3zM955 634h2v1h-2zM960 634h3v1h-3zM338 635h1v1h-1zM396 635h1v1h-1zM470 635h1v1h-1zM654 635h2v1h-2zM840 635h1v1h-1zM900 635h3v1h-3zM906 635h3v1h-3zM912 635h3v1h-3zM918 635h3v1h-3zM924 635h3v1h-3zM930 635h3v1h-3zM936 635h3v1h-3zM942 635h3v1h-3zM948 635h3v1h-3zM954 635h1v1h-1zM228 636h1v1h-1zM336 636h2v1h-2zM397 636h2v1h-2zM468 636h2v1h-2zM546 636h2v1h-2zM720 636h1v1h-1zM834 636h3v1h-3zM229 637h1v1h-1zM548 637h1v1h-1zM650 637h1v1h-1zM721 637h2v1h-2zM829 637h2v1h-2zM230 638h1v1h-1zM330 638h3v1h-3zM402 638h2v1h-2zM464 638h1v1h-1zM648 638h2v1h-2zM828 638h1v1h-1zM326 639h1v1h-1zM404 639h1v1h-1zM462 639h2v1h-2zM552 639h2v1h-2zM824 639h1v1h-1zM234 640h1v1h-1zM324 640h2v1h-2zM554 640h1v1h-1zM643 640h2v1h-2zM726 640h2v1h-2zM822 640h2v1h-2zM235 641h1v1h-1zM408 641h3v1h-3zM642 641h1v1h-1zM728 641h1v1h-1zM236 642h1v1h-1zM457 642h2v1h-2zM558 642h2v1h-2zM637 642h2v1h-2zM816 642h3v1h-3zM319 643h2v1h-2zM414 643h3v1h-3zM456 643h1v1h-1zM560 643h1v1h-1zM636 643h1v1h-1zM732 643h2v1h-2zM240 644h1v1h-1zM318 644h1v1h-1zM420 644h1v1h-1zM632 644h1v1h-1zM734 644h1v1h-1zM810 644h3v1h-3zM241 645h2v1h-2zM421 645h2v1h-2zM426 645h1v1h-1zM450 645h3v1h-3zM564 645h2v1h-2zM630 645h2v1h-2zM738 645h1v1h-1zM805 645h2v1h-2zM314 646h1v1h-1zM427 646h2v1h-2zM432 646h3v1h-3zM444 646h3v1h-3zM566 646h1v1h-1zM739 646h2v1h-2zM804 646h1v1h-1zM312 647h2v1h-2zM438 647h3v1h-3zM626 647h1v1h-1zM744 647h1v1h-1zM798 647h3v1h-3zM246 648h2v1h-2zM570 648h2v1h-2zM624 648h2v1h-2zM745 648h2v1h-2zM793 648h2v1h-2zM248 649h1v1h-1zM306 649h3v1h-3zM572 649h1v1h-1zM750 649h3v1h-3zM787 649h2v1h-2zM792 649h1v1h-1zM302 650h1v1h-1zM576 650h1v1h-1zM618 650h3v1h-3zM756 650h1v1h-1zM781 650h2v1h-2zM786 650h1v1h-1zM252 651h2v1h-2zM300 651h2v1h-2zM577 651h2v1h-2zM613 651h2v1h-2zM757 651h2v1h-2zM780 651h1v1h-1zM254 652h1v1h-1zM582 652h3v1h-3zM612 652h1v1h-1zM762 652h3v1h-3zM774 652h3v1h-3zM258 653h3v1h-3zM296 653h1v1h-1zM588 653h3v1h-3zM594 653h1v1h-1zM606 653h3v1h-3zM768 653h3v1h-3zM264 654h3v1h-3zM294 654h2v1h-2zM595 654h2v1h-2zM600 654h3v1h-3zM270 655h3v1h-3zM276 655h3v1h-3zM282 655h3v1h-3zM288 655h3v1h-3z"/>
<rect x="6" y="708" width="1415" height="1" fill="#fff"/>
<path d="M7 708.5 H1421 M7 759.5 H1421" stroke="#c0c0c0" stroke-width="1" stroke-dasharray="3 3" fill="none"/>
<path fill="#1e90ff" d="M998 709h1v1h-1zM997 710h1v1h-1zM999 710h2v1h-2zM1115 710h4v1h-4zM996 711h1v1h-1zM1001 711h2v1h-2zM1107 711h8v1h-8zM995 712h1v1h-1zM1003 712h1v1h-1zM1101 712h6v1h-6zM994 713h1v1h-1zM1004 713h2v1h-2zM1019 713h4v1h-4zM1097 713h4v1h-4zM993 714h1v1h-1zM1006 714h13v1h-13zM1023 714h1v1h-1zM1094 714h3v1h-3zM992 715h1v1h-1zM1024 715h1v1h-1zM1093 715h1v1h-1zM462 716h1v1h-1zM991 716h1v1h-1zM1025 716h1v1h-1zM1092 716h1v1h-1zM461 717h1v2h-1zM463 717h1v1h-1zM990 717h1v1h-1zM1026 717h1v2h-1zM1091 717h1v1h-1zM464 718h1v2h-1zM989 718h1v1h-1zM1090 718h1v2h-1zM460 719h1v1h-1zM971 719h4v1h-4zM988 719h1v1h-1zM1027 719h1v1h-1zM459 720h1v2h-1zM465 720h1v1h-1zM966 720h5v1h-5zM975 720h1v1h-1zM987 720h1v1h-1zM1028 720h1v1h-1zM1089 720h1v1h-1zM466 721h1v1h-1zM966 721h1v1h-1zM976 721h1v1h-1zM986 721h1v2h-1zM1029 721h1v1h-1zM1088 721h1v1h-1zM126 722h1v1h-1zM458 722h1v1h-1zM467 722h1v1h-1zM965 722h1v2h-1zM977 722h2v1h-2zM1030 722h2v1h-2zM1087 722h1v1h-1zM125 723h1v1h-1zM127 723h2v1h-2zM457 723h1v2h-1zM468 723h1v2h-1zM979 723h1v1h-1zM985 723h1v1h-1zM1032 723h3v1h-3zM1086 723h1v1h-1zM124 724h1v1h-1zM129 724h1v1h-1zM964 724h1v2h-1zM980 724h1v1h-1zM984 724h1v1h-1zM1035 724h2v1h-2zM1085 724h1v1h-1zM123 725h1v1h-1zM130 725h1v1h-1zM310 725h2v1h-2zM456 725h1v1h-1zM469 725h1v1h-1zM981 725h1v1h-1zM983 725h1v1h-1zM1037 725h2v1h-2zM1084 725h1v1h-1zM121 726h2v1h-2zM131 726h2v1h-2zM309 726h1v1h-1zM312 726h3v1h-3zM455 726h1v2h-1zM470 726h1v1h-1zM635 726h4v1h-4zM963 726h1v2h-1zM982 726h1v1h-1zM1039 726h1v2h-1zM1083 726h1v1h-1zM120 727h1v1h-1zM133 727h1v1h-1zM139 727h8v1h-8zM308 727h1v1h-1zM315 727h2v1h-2zM471 727h1v2h-1zM627 727h8v1h-8zM639 727h2v1h-2zM1082 727h1v2h-1zM13 728h2v1h-2zM119 728h1v1h-1zM134 728h5v1h-5zM147 728h5v1h-5zM307 728h1v1h-1zM317 728h4v1h-4zM453 728h2v1h-2zM622 728h5v1h-5zM641 728h1v1h-1zM962 728h1v2h-1zM1040 728h1v2h-1zM9 729h4v1h-4zM15 729h1v1h-1zM115 729h4v1h-4zM152 729h3v1h-3zM305 729h2v1h-2zM321 729h4v1h-4zM449 729h4v1h-4zM472 729h1v2h-1zM621 729h1v1h-1zM642 729h1v1h-1zM653 729h2v1h-2zM811 729h8v1h-8zM1081 729h1v1h-1zM6 730h3v1h-3zM16 730h1v1h-1zM109 730h6v1h-6zM155 730h2v1h-2zM304 730h1v1h-1zM325 730h3v1h-3zM342 730h1v1h-1zM445 730h4v1h-4zM620 730h1v1h-1zM643 730h2v1h-2zM651 730h2v1h-2zM655 730h1v2h-1zM805 730h6v1h-6zM819 730h4v1h-4zM902 730h3v1h-3zM961 730h1v2h-1zM1041 730h1v2h-1zM1080 730h1v1h-1zM17 731h2v1h-2zM105 731h4v1h-4zM157 731h2v1h-2zM303 731h1v1h-1zM328 731h2v1h-2zM340 731h2v1h-2zM343 731h1v1h-1zM443 731h2v1h-2zM473 731h1v1h-1zM619 731h1v1h-1zM645 731h1v1h-1zM648 731h3v1h-3zM803 731h2v1h-2zM823 731h1v1h-1zM901 731h1v1h-1zM905 731h4v1h-4zM1079 731h1v1h-1zM19 732h1v1h-1zM94 732h11v1h-11zM159 732h2v1h-2zM302 732h1v1h-1zM330 732h2v1h-2zM338 732h2v1h-2zM344 732h1v1h-1zM414 732h2v1h-2zM440 732h3v1h-3zM474 732h1v2h-1zM605 732h3v1h-3zM617 732h2v1h-2zM646 732h2v1h-2zM656 732h1v2h-1zM800 732h3v1h-3zM824 732h1v1h-1zM900 732h1v1h-1zM909 732h4v1h-4zM960 732h1v2h-1zM1042 732h1v1h-1zM1078 732h1v1h-1zM20 733h1v1h-1zM93 733h1v2h-1zM161 733h2v1h-2zM300 733h2v1h-2zM332 733h2v1h-2zM336 733h2v1h-2zM345 733h1v1h-1zM413 733h1v1h-1zM416 733h2v1h-2zM429 733h11v1h-11zM601 733h4v1h-4zM608 733h3v1h-3zM616 733h1v1h-1zM798 733h2v1h-2zM825 733h2v1h-2zM899 733h1v1h-1zM913 733h4v1h-4zM1043 733h1v2h-1zM1077 733h1v1h-1zM21 734h1v1h-1zM163 734h1v1h-1zM298 734h2v1h-2zM334 734h2v1h-2zM346 734h1v2h-1zM412 734h1v1h-1zM418 734h2v1h-2zM427 734h2v1h-2zM475 734h1v1h-1zM597 734h4v1h-4zM611 734h2v1h-2zM615 734h1v1h-1zM657 734h1v2h-1zM796 734h2v1h-2zM827 734h1v1h-1zM898 734h1v1h-1zM917 734h2v1h-2zM959 734h1v2h-1zM1076 734h1v1h-1zM22 735h2v1h-2zM92 735h1v2h-1zM164 735h2v1h-2zM269 735h4v1h-4zM296 735h2v1h-2zM411 735h1v1h-1zM420 735h2v1h-2zM424 735h3v1h-3zM476 735h1v2h-1zM494 735h1v1h-1zM593 735h4v1h-4zM613 735h2v1h-2zM795 735h1v1h-1zM828 735h1v1h-1zM897 735h1v1h-1zM919 735h1v1h-1zM1044 735h1v2h-1zM1075 735h1v1h-1zM24 736h3v1h-3zM166 736h1v1h-1zM267 736h2v1h-2zM273 736h4v1h-4zM291 736h5v1h-5zM347 736h1v1h-1zM409 736h2v1h-2zM422 736h2v1h-2zM492 736h2v1h-2zM495 736h2v1h-2zM590 736h3v1h-3zM658 736h1v2h-1zM678 736h1v1h-1zM793 736h2v1h-2zM829 736h1v1h-1zM835 736h4v1h-4zM896 736h1v1h-1zM920 736h1v1h-1zM958 736h1v1h-1zM1061 736h2v1h-2zM1074 736h1v2h-1zM27 737h2v1h-2zM78 737h1v1h-1zM91 737h1v2h-1zM167 737h2v1h-2zM264 737h3v1h-3zM277 737h14v1h-14zM348 737h1v1h-1zM408 737h1v1h-1zM477 737h1v2h-1zM490 737h2v1h-2zM497 737h1v1h-1zM589 737h1v1h-1zM676 737h2v1h-2zM679 737h2v1h-2zM734 737h3v1h-3zM774 737h2v1h-2zM791 737h2v1h-2zM830 737h5v1h-5zM839 737h1v1h-1zM895 737h1v1h-1zM921 737h2v1h-2zM950 737h9v1h-9zM1045 737h1v2h-1zM1057 737h4v1h-4zM1063 737h2v1h-2zM29 738h6v1h-6zM76 738h2v1h-2zM79 738h1v2h-1zM169 738h1v1h-1zM262 738h2v1h-2zM349 738h1v1h-1zM407 738h1v1h-1zM488 738h2v1h-2zM498 738h1v1h-1zM588 738h1v1h-1zM659 738h1v2h-1zM674 738h2v1h-2zM681 738h1v1h-1zM733 738h1v1h-1zM737 738h4v1h-4zM772 738h2v1h-2zM776 738h3v1h-3zM789 738h2v1h-2zM840 738h1v1h-1zM894 738h1v1h-1zM923 738h1v1h-1zM949 738h1v2h-1zM1051 738h6v1h-6zM1065 738h2v1h-2zM1073 738h1v1h-1zM35 739h6v1h-6zM74 739h2v1h-2zM90 739h1v2h-1zM170 739h1v1h-1zM260 739h2v1h-2zM350 739h1v1h-1zM406 739h1v1h-1zM478 739h10v1h-10zM499 739h2v1h-2zM587 739h1v1h-1zM672 739h2v1h-2zM682 739h1v1h-1zM731 739h2v1h-2zM741 739h2v1h-2zM770 739h2v1h-2zM779 739h2v1h-2zM785 739h4v1h-4zM841 739h1v1h-1zM893 739h1v1h-1zM924 739h1v1h-1zM1046 739h5v1h-5zM1067 739h1v1h-1zM1072 739h1v1h-1zM41 740h4v1h-4zM72 740h2v1h-2zM80 740h1v1h-1zM171 740h2v1h-2zM259 740h1v1h-1zM351 740h2v1h-2zM405 740h1v1h-1zM501 740h1v1h-1zM586 740h1v2h-1zM660 740h1v2h-1zM670 740h2v1h-2zM683 740h2v1h-2zM730 740h1v1h-1zM743 740h2v1h-2zM758 740h5v1h-5zM768 740h2v1h-2zM781 740h4v1h-4zM842 740h1v1h-1zM892 740h1v2h-1zM925 740h1v1h-1zM948 740h1v2h-1zM1068 740h2v1h-2zM1071 740h1v1h-1zM45 741h27v1h-27zM81 741h1v1h-1zM89 741h1v2h-1zM173 741h1v1h-1zM257 741h2v1h-2zM353 741h2v1h-2zM403 741h2v1h-2zM502 741h2v1h-2zM558 741h2v1h-2zM668 741h2v1h-2zM685 741h1v1h-1zM729 741h1v1h-1zM745 741h2v1h-2zM756 741h2v1h-2zM763 741h5v1h-5zM843 741h1v1h-1zM926 741h1v1h-1zM1070 741h1v1h-1zM82 742h1v2h-1zM174 742h2v1h-2zM255 742h2v1h-2zM355 742h1v1h-1zM402 742h1v1h-1zM504 742h3v1h-3zM557 742h1v1h-1zM560 742h3v1h-3zM585 742h1v1h-1zM661 742h1v2h-1zM666 742h2v1h-2zM686 742h1v1h-1zM727 742h2v1h-2zM747 742h1v1h-1zM754 742h2v1h-2zM844 742h1v1h-1zM891 742h1v1h-1zM927 742h1v1h-1zM947 742h1v2h-1zM88 743h1v2h-1zM176 743h2v1h-2zM214 743h1v1h-1zM253 743h2v1h-2zM356 743h2v1h-2zM363 743h4v1h-4zM401 743h1v1h-1zM507 743h2v1h-2zM556 743h1v1h-1zM563 743h2v1h-2zM584 743h1v1h-1zM664 743h2v1h-2zM687 743h1v2h-1zM726 743h1v1h-1zM748 743h2v1h-2zM752 743h2v1h-2zM845 743h1v1h-1zM890 743h1v1h-1zM928 743h1v1h-1zM83 744h1v1h-1zM178 744h2v1h-2zM213 744h1v1h-1zM215 744h1v1h-1zM249 744h4v1h-4zM358 744h5v1h-5zM366 744h1v1h-1zM399 744h2v1h-2zM509 744h3v1h-3zM555 744h1v1h-1zM565 744h6v1h-6zM583 744h1v1h-1zM662 744h2v1h-2zM725 744h1v1h-1zM750 744h2v1h-2zM846 744h2v1h-2zM889 744h1v1h-1zM929 744h1v1h-1zM946 744h1v2h-1zM84 745h1v1h-1zM87 745h1v2h-1zM180 745h2v1h-2zM212 745h1v2h-1zM216 745h1v1h-1zM230 745h19v1h-19zM367 745h1v2h-1zM398 745h1v1h-1zM512 745h2v1h-2zM554 745h1v2h-1zM571 745h12v1h-12zM688 745h1v1h-1zM724 745h1v1h-1zM848 745h2v1h-2zM861 745h19v1h-19zM888 745h1v2h-1zM930 745h1v1h-1zM85 746h1v1h-1zM182 746h3v1h-3zM217 746h1v1h-1zM229 746h1v1h-1zM397 746h1v1h-1zM514 746h2v1h-2zM689 746h1v2h-1zM723 746h1v1h-1zM850 746h2v1h-2zM859 746h2v1h-2zM880 746h3v1h-3zM931 746h1v1h-1zM945 746h1v2h-1zM85 747h2v1h-2zM185 747h4v1h-4zM211 747h1v1h-1zM218 747h1v1h-1zM227 747h2v1h-2zM368 747h1v2h-1zM395 747h2v1h-2zM516 747h2v1h-2zM553 747h1v1h-1zM722 747h1v2h-1zM852 747h2v1h-2zM856 747h3v1h-3zM883 747h2v1h-2zM887 747h1v1h-1zM932 747h1v1h-1zM86 748h1v1h-1zM189 748h6v1h-6zM210 748h1v1h-1zM219 748h1v1h-1zM226 748h1v1h-1zM394 748h1v1h-1zM518 748h5v1h-5zM531 748h6v1h-6zM552 748h1v1h-1zM690 748h1v1h-1zM854 748h2v1h-2zM885 748h2v1h-2zM933 748h1v1h-1zM944 748h1v2h-1zM195 749h5v1h-5zM209 749h1v1h-1zM220 749h1v1h-1zM225 749h1v1h-1zM369 749h1v2h-1zM382 749h3v1h-3zM393 749h1v1h-1zM523 749h8v1h-8zM537 749h4v1h-4zM551 749h1v1h-1zM691 749h1v2h-1zM721 749h1v1h-1zM934 749h2v1h-2zM200 750h2v1h-2zM208 750h1v2h-1zM221 750h1v1h-1zM223 750h2v1h-2zM381 750h1v1h-1zM385 750h4v1h-4zM391 750h2v1h-2zM541 750h10v1h-10zM720 750h1v1h-1zM936 750h3v1h-3zM943 750h1v2h-1zM202 751h2v1h-2zM222 751h1v1h-1zM370 751h1v2h-1zM380 751h1v2h-1zM389 751h2v1h-2zM692 751h1v1h-1zM719 751h1v1h-1zM939 751h2v1h-2zM204 752h2v1h-2zM207 752h1v1h-1zM693 752h1v2h-1zM710 752h9v1h-9zM941 752h2v1h-2zM206 753h1v1h-1zM371 753h1v2h-1zM379 753h1v1h-1zM708 753h2v1h-2zM378 754h1v1h-1zM694 754h3v1h-3zM706 754h2v1h-2zM372 755h1v2h-1zM377 755h1v1h-1zM697 755h4v1h-4zM704 755h2v1h-2zM376 756h1v2h-1zM701 756h3v1h-3zM373 757h1v2h-1zM375 758h1v1h-1zM374 759h1v1h-1z"/>
<rect x="1270" y="20" width="1" height="782" fill="#000"/>
<rect x="7" y="40" width="223" height="68" fill="#fff"/>
<rect x="118" y="66" width="2" height="40" fill="#fff"/>
<rect x="9" y="42" width="52" height="24" fill="#0a0ab4"/>
<rect x="10" y="43" width="50" height="23" fill="url(#gs)"/>
<rect x="176" y="42" width="52" height="24" fill="#0a0ab4"/>
<rect x="177" y="43" width="50" height="23" fill="url(#gs)"/>
<rect x="9" y="66" width="109" height="40" fill="#0a0ab4"/>
<rect x="10" y="67" width="107" height="38" fill="url(#gp)"/>
<rect x="10" y="66" width="50" height="1" fill="#3434dc"/>
<rect x="120" y="66" width="108" height="40" fill="#0a0ab4"/>
<rect x="121" y="67" width="106" height="38" fill="url(#gp)"/>
<rect x="177" y="66" width="50" height="1" fill="#3434dc"/>
<rect x="13" y="65" width="44" height="1" fill="#000090"/>
<rect x="180" y="65" width="44" height="1" fill="#000090"/>
<rect x="13" y="66" width="44" height="1" fill="#7878f8"/>
<rect x="180" y="66" width="44" height="1" fill="#7878f8"/>
<rect x="63" y="42" width="110" height="21" fill="#ffffff" stroke="#a8a8a8" stroke-width="1" transform="translate(0.5,0.5)"/>
<rect x="65" y="44" width="19" height="18" fill="url(#gb)"/>
<rect x="154" y="44" width="19" height="18" fill="url(#gb)"/>
<rect x="84" y="43" width="1" height="20" fill="#b0b0b0"/>
<rect x="152" y="43" width="1" height="20" fill="#b0b0b0"/>
<path d="M71.5 51.5 L77.5 51.5 L74.5 55 Z" fill="#4a64c8" shape-rendering="auto"/>
<path d="M159.5 54.5 L165.5 54.5 L162.5 51 Z" fill="#4a64c8" shape-rendering="auto"/>
<text x="148.5" y="57" font-size="12" fill="#000" text-anchor="end" textLength="23" lengthAdjust="spacingAndGlyphs" stroke="#000" stroke-width="0.15">1.00</text>
<text x="21.5" y="58" font-size="12" fill="#fff" textLength="25.5" lengthAdjust="spacingAndGlyphs" stroke="#fff" stroke-width="0.15">SELL</text>
<text x="189.4" y="58" font-size="12" fill="#fff" textLength="23.3" lengthAdjust="spacingAndGlyphs" stroke="#fff" stroke-width="0.15">BUY</text>
<text x="29.5" y="97" font-size="12" fill="#fff" textLength="23.7" lengthAdjust="spacingAndGlyphs" font-weight="bold" stroke="#fff" stroke-width="0.3">1.14</text>
<text x="57" y="97.4" font-size="35.5" fill="#fff" textLength="34" lengthAdjust="spacingAndGlyphs" font-family="Liberation Sans, sans-serif">02</text>
<text x="96.9" y="81" font-size="11.5" fill="#fff" textLength="7" lengthAdjust="spacingAndGlyphs" font-weight="bold">8</text>
<text x="139.5" y="97" font-size="12" fill="#fff" textLength="23.7" lengthAdjust="spacingAndGlyphs" font-weight="bold" stroke="#fff" stroke-width="0.3">1.14</text>
<text x="167" y="97.4" font-size="35.5" fill="#fff" textLength="34" lengthAdjust="spacingAndGlyphs" font-family="Liberation Sans, sans-serif">04</text>
<text x="206.9" y="81" font-size="11.5" fill="#fff" textLength="7" lengthAdjust="spacingAndGlyphs" font-weight="bold">4</text>
<path d="M9 33 L16.5 33 L12.75 28.5 Z" fill="#000" shape-rendering="auto"/>
<text x="21.3" y="34" font-size="9.3" fill="#000" textLength="66.5" lengthAdjust="spacingAndGlyphs" stroke="#000" stroke-width="0.22">EURUSD-,Daily</text>
<text x="94.8" y="34" font-size="9.3" fill="#000" textLength="139.8" lengthAdjust="spacingAndGlyphs" stroke="#000" stroke-width="0.22">1.13985 1.14055 1.13961 1.14028</text>
<text x="10" y="576" font-size="9.3" fill="#000" textLength="148" lengthAdjust="spacingAndGlyphs" stroke="#000" stroke-width="0.22">MACD(12,26,9) 0.003992 0.001978</text>
<text x="10" y="681" font-size="9.3" fill="#000" textLength="67.5" lengthAdjust="spacingAndGlyphs" stroke="#000" stroke-width="0.22">RSI(14) 68.0671</text>
<rect x="1422" y="30" width="2" height="1" fill="#000"/>
<text x="1427.5" y="34" font-size="9.3" fill="#000" textLength="32.5" lengthAdjust="spacingAndGlyphs" stroke="#000" stroke-width="0.22">1.15285</text>
<rect x="1422" y="63" width="2" height="1" fill="#000"/>
<text x="1427.5" y="67" font-size="9.3" fill="#000" textLength="32.5" lengthAdjust="spacingAndGlyphs" stroke="#000" stroke-width="0.22">1.15015</text>
<rect x="1422" y="96" width="2" height="1" fill="#000"/>
<text x="1427.5" y="100" font-size="9.3" fill="#000" textLength="32.5" lengthAdjust="spacingAndGlyphs" stroke="#000" stroke-width="0.22">1.14750</text>
<rect x="1422" y="129" width="2" height="1" fill="#000"/>
<text x="1427.5" y="133" font-size="9.3" fill="#000" textLength="32.5" lengthAdjust="spacingAndGlyphs" stroke="#000" stroke-width="0.22">1.14480</text>
<rect x="1422" y="162" width="2" height="1" fill="#000"/>
<text x="1427.5" y="166" font-size="9.3" fill="#000" textLength="32.5" lengthAdjust="spacingAndGlyphs" stroke="#000" stroke-width="0.22">1.14210</text>
<rect x="1422" y="195" width="2" height="1" fill="#000"/>
<text x="1427.5" y="199" font-size="9.3" fill="#000" textLength="32.5" lengthAdjust="spacingAndGlyphs" stroke="#000" stroke-width="0.22">1.13945</text>
<rect x="1422" y="228" width="2" height="1" fill="#000"/>
<text x="1427.5" y="232" font-size="9.3" fill="#000" textLength="32.5" lengthAdjust="spacingAndGlyphs" stroke="#000" stroke-width="0.22">1.13675</text>
<rect x="1422" y="261" width="2" height="1" fill="#000"/>
<text x="1427.5" y="265" font-size="9.3" fill="#000" textLength="32.5" lengthAdjust="spacingAndGlyphs" stroke="#000" stroke-width="0.22">1.13405</text>
<rect x="1422" y="294" width="2" height="1" fill="#000"/>
<text x="1427.5" y="298" font-size="9.3" fill="#000" textLength="32.5" lengthAdjust="spacingAndGlyphs" stroke="#000" stroke-width="0.22">1.13135</text>
<rect x="1422" y="327" width="2" height="1" fill="#000"/>
<text x="1427.5" y="331" font-size="9.3" fill="#000" textLength="32.5" lengthAdjust="spacingAndGlyphs" stroke="#000" stroke-width="0.22">1.12870</text>
<rect x="1422" y="360" width="2" height="1" fill="#000"/>
<text x="1427.5" y="364" font-size="9.3" fill="#000" textLength="32.5" lengthAdjust="spacingAndGlyphs" stroke="#000" stroke-width="0.22">1.12600</text>
<rect x="1422" y="393" width="2" height="1" fill="#000"/>
<text x="1427.5" y="397" font-size="9.3" fill="#000" textLength="32.5" lengthAdjust="spacingAndGlyphs" stroke="#000" stroke-width="0.22">1.12330</text>
<rect x="1422" y="426" width="2" height="1" fill="#000"/>
<text x="1427.5" y="430" font-size="9.3" fill="#000" textLength="32.5" lengthAdjust="spacingAndGlyphs" stroke="#000" stroke-width="0.22">1.12065</text>
<rect x="1422" y="459" width="2" height="1" fill="#000"/>
<text x="1427.5" y="463" font-size="9.3" fill="#000" textLength="32.5" lengthAdjust="spacingAndGlyphs" stroke="#000" stroke-width="0.22">1.11795</text>
<rect x="1422" y="492" width="2" height="1" fill="#000"/>
<text x="1427.5" y="496" font-size="9.3" fill="#000" textLength="32.5" lengthAdjust="spacingAndGlyphs" stroke="#000" stroke-width="0.22">1.11525</text>
<rect x="1422" y="525" width="2" height="1" fill="#000"/>
<text x="1427.5" y="529" font-size="9.3" fill="#000" textLength="32.5" lengthAdjust="spacingAndGlyphs" stroke="#000" stroke-width="0.22">1.11255</text>
<rect x="1422" y="558" width="2" height="1" fill="#000"/>
<text x="1427.5" y="562" font-size="9.3" fill="#000" textLength="32.5" lengthAdjust="spacingAndGlyphs" stroke="#000" stroke-width="0.22">1.10990</text>
<rect x="1423" y="180" width="41" height="11" fill="#000"/>
<text x="1427.5" y="189" font-size="9.3" fill="#fff" textLength="32.5" lengthAdjust="spacingAndGlyphs" stroke="#fff" stroke-width="0.22">1.14028</text>
<rect x="1422" y="565" width="1" height="1" fill="#000"/>
<text x="1425" y="574" font-size="9.3" fill="#000" textLength="38" lengthAdjust="spacingAndGlyphs" stroke="#000" stroke-width="0.22">0.004359</text>
<rect x="1422" y="619" width="1" height="1" fill="#000"/>
<text x="1425" y="623" font-size="9.3" fill="#000" textLength="17.8" lengthAdjust="spacingAndGlyphs" stroke="#000" stroke-width="0.22">0.00</text>
<rect x="1422" y="665" width="1" height="1" fill="#000"/>
<text x="1425" y="663" font-size="9.3" fill="#000" textLength="36" lengthAdjust="spacingAndGlyphs" stroke="#000" stroke-width="0.22">-0.00371</text>
<rect x="1422" y="670" width="1" height="1" fill="#000"/>
<rect x="1422" y="797" width="1" height="1" fill="#000"/>
<text x="1425" y="679" font-size="9.3" fill="#000" textLength="14.8" lengthAdjust="spacingAndGlyphs" stroke="#000" stroke-width="0.22">100</text>
<text x="1425" y="712" font-size="9.3" fill="#000" textLength="9.8" lengthAdjust="spacingAndGlyphs" stroke="#000" stroke-width="0.22">70</text>
<text x="1425" y="763" font-size="9.3" fill="#000" textLength="9.8" lengthAdjust="spacingAndGlyphs" stroke="#000" stroke-width="0.22">30</text>
<text x="1425" y="795" font-size="9.3" fill="#000" stroke="#000" stroke-width="0.22">0</text>
<rect x="6" y="799" width="1" height="3" fill="#000"/>
<text x="5.5" y="811" font-size="9.3" fill="#000" textLength="49.5" lengthAdjust="spacingAndGlyphs" stroke="#000" stroke-width="0.22">13 Jan 2019</text>
<rect x="70" y="799" width="1" height="3" fill="#000"/>
<text x="69.5" y="811" font-size="9.3" fill="#000" textLength="49.5" lengthAdjust="spacingAndGlyphs" stroke="#000" stroke-width="0.22">22 Jan 2019</text>
<rect x="134" y="799" width="1" height="3" fill="#000"/>
<text x="133.5" y="811" font-size="9.3" fill="#000" textLength="49.5" lengthAdjust="spacingAndGlyphs" stroke="#000" stroke-width="0.22">31 Jan 2019</text>
<rect x="198" y="799" width="1" height="3" fill="#000"/>
<text x="197.5" y="811" font-size="9.3" fill="#000" textLength="51.8" lengthAdjust="spacingAndGlyphs" stroke="#000" stroke-width="0.22">10 Feb 2019</text>
<rect x="262" y="799" width="1" height="3" fill="#000"/>
<text x="261.5" y="811" font-size="9.3" fill="#000" textLength="51.8" lengthAdjust="spacingAndGlyphs" stroke="#000" stroke-width="0.22">19 Feb 2019</text>
<rect x="326" y="799" width="1" height="3" fill="#000"/>
<text x="325.5" y="811" font-size="9.3" fill="#000" textLength="51.8" lengthAdjust="spacingAndGlyphs" stroke="#000" stroke-width="0.22">28 Feb 2019</text>
<rect x="390" y="799" width="1" height="3" fill="#000"/>
<text x="389.5" y="811" font-size="9.3" fill="#000" textLength="51.5" lengthAdjust="spacingAndGlyphs" stroke="#000" stroke-width="0.22">10 Mar 2019</text>
<rect x="454" y="799" width="1" height="3" fill="#000"/>
<text x="453.5" y="811" font-size="9.3" fill="#000" textLength="51.5" lengthAdjust="spacingAndGlyphs" stroke="#000" stroke-width="0.22">19 Mar 2019</text>
<rect x="518" y="799" width="1" height="3" fill="#000"/>
<text x="517.5" y="811" font-size="9.3" fill="#000" textLength="51.5" lengthAdjust="spacingAndGlyphs" stroke="#000" stroke-width="0.22">28 Mar 2019</text>
<rect x="582" y="799" width="1" height="3" fill="#000"/>
<text x="581.5" y="811" font-size="9.3" fill="#000" textLength="45.6" lengthAdjust="spacingAndGlyphs" stroke="#000" stroke-width="0.22">7 Apr 2019</text>
<rect x="646" y="799" width="1" height="3" fill="#000"/>
<text x="645.5" y="811" font-size="9.3" fill="#000" textLength="50.6" lengthAdjust="spacingAndGlyphs" stroke="#000" stroke-width="0.22">16 Apr 2019</text>
<rect x="710" y="799" width="1" height="3" fill="#000"/>
<text x="709.5" y="811" font-size="9.3" fill="#000" textLength="50.6" lengthAdjust="spacingAndGlyphs" stroke="#000" stroke-width="0.22">26 Apr 2019</text>
<rect x="774" y="799" width="1" height="3" fill="#000"/>
<text x="773.5" y="811" font-size="9.3" fill="#000" textLength="49" lengthAdjust="spacingAndGlyphs" stroke="#000" stroke-width="0.22">6 May 2019</text>
<rect x="838" y="799" width="1" height="3" fill="#000"/>
<text x="837.5" y="811" font-size="9.3" fill="#000" textLength="54" lengthAdjust="spacingAndGlyphs" stroke="#000" stroke-width="0.22">15 May 2019</text>
<rect x="902" y="799" width="1" height="3" fill="#000"/>
<text x="901.5" y="811" font-size="9.3" fill="#000" textLength="54" lengthAdjust="spacingAndGlyphs" stroke="#000" stroke-width="0.22">24 May 2019</text>
<rect x="966" y="799" width="1" height="3" fill="#000"/>
<text x="965.5" y="811" font-size="9.3" fill="#000" textLength="44.8" lengthAdjust="spacingAndGlyphs" stroke="#000" stroke-width="0.22">3 Jun 2019</text>
<rect x="1030" y="799" width="1" height="3" fill="#000"/>
<text x="1029.5" y="811" font-size="9.3" fill="#000" textLength="49.2" lengthAdjust="spacingAndGlyphs" stroke="#000" stroke-width="0.22">12 Jun 2019</text>
<rect x="1094" y="799" width="1" height="3" fill="#000"/>
<text x="1093.5" y="811" font-size="9.3" fill="#000" textLength="49.4" lengthAdjust="spacingAndGlyphs" stroke="#000" stroke-width="0.22">21 Jun 2019</text>
<rect x="1232" y="802" width="75" height="11" fill="#000"/>
<text x="1236" y="811" font-size="9.3" fill="#fff" textLength="67" lengthAdjust="spacingAndGlyphs" stroke="#fff" stroke-width="0.22">2019.07.14 0:00</text>
</svg>
</body></html>
